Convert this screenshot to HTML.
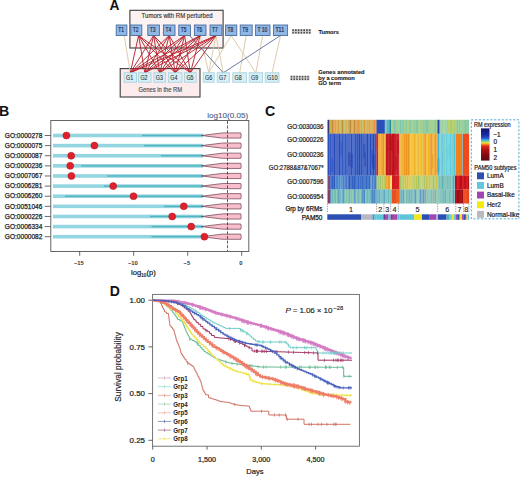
<!DOCTYPE html>
<html><head><meta charset="utf-8"><style>
html,body{margin:0;padding:0;background:#fff;width:520px;height:477px;overflow:hidden}
svg{display:block}
</style></head><body>
<svg width="520" height="477" viewBox="0 0 520 477">
<rect width="520" height="477" fill="#fff"/>
<text x="109.4" y="9.6" font-family='"Liberation Sans", sans-serif' font-size="13.8" font-weight="bold" fill="#111" text-anchor="start">A</text>
<rect x="129.9" y="10.3" width="93.2" height="37.7" fill="#fdf2f2" stroke="#3d3d3d" stroke-width="1.1"/>
<text x="141.6" y="17.6" font-family='"Liberation Sans", sans-serif' font-size="6.4" font-weight="normal" fill="#333" text-anchor="start" textLength="71" lengthAdjust="spacingAndGlyphs" stroke="#333" stroke-width="0.15">Tumors with RM perturbed</text>
<rect x="120.2" y="68.6" width="79.8" height="28.4" fill="#fcebed" stroke="#3d3d3d" stroke-width="1.1"/>
<text x="138.6" y="91.8" font-family='"Liberation Sans", sans-serif' font-size="6.9" font-weight="normal" fill="#4a4a4a" text-anchor="start" textLength="43.5" lengthAdjust="spacingAndGlyphs" stroke="#4a4a4a" stroke-width="0.15">Genes in the RM</text>
<line x1="124.2" y1="35.5" x2="130.3" y2="72.8" stroke="#d8c7a6" stroke-width="0.9"/>
<line x1="200.2" y1="35.5" x2="208.7" y2="72.8" stroke="#d8c7a6" stroke-width="0.9"/>
<line x1="216.0" y1="35.5" x2="208.7" y2="72.8" stroke="#d8c7a6" stroke-width="0.9"/>
<line x1="216.0" y1="35.5" x2="223.3" y2="72.8" stroke="#d8c7a6" stroke-width="0.9"/>
<line x1="231.2" y1="35.5" x2="208.7" y2="72.8" stroke="#d8c7a6" stroke-width="0.9"/>
<line x1="231.2" y1="35.5" x2="255.9" y2="72.8" stroke="#d8c7a6" stroke-width="0.9"/>
<line x1="246.2" y1="35.5" x2="239.7" y2="72.8" stroke="#d8c7a6" stroke-width="0.9"/>
<line x1="262.7" y1="35.5" x2="255.9" y2="72.8" stroke="#d8c7a6" stroke-width="0.9"/>
<line x1="280.5" y1="35.5" x2="272.1" y2="72.8" stroke="#d8c7a6" stroke-width="0.9"/>
<line x1="189.5" y1="35.5" x2="223.3" y2="72.8" stroke="#5a6588" stroke-width="0.9"/>
<line x1="280.5" y1="35.5" x2="223.3" y2="72.8" stroke="#5a6a9c" stroke-width="0.9"/>
<line x1="138.6" y1="35.5" x2="130.3" y2="72.8" stroke="#b5202d" stroke-width="1.0" stroke-opacity="0.92"/>
<line x1="138.6" y1="35.5" x2="144.8" y2="72.8" stroke="#b5202d" stroke-width="1.0" stroke-opacity="0.92"/>
<line x1="138.6" y1="35.5" x2="159.8" y2="72.8" stroke="#b5202d" stroke-width="1.0" stroke-opacity="0.92"/>
<line x1="138.6" y1="35.5" x2="175.2" y2="72.8" stroke="#b5202d" stroke-width="1.0" stroke-opacity="0.92"/>
<line x1="138.6" y1="35.5" x2="190.4" y2="72.8" stroke="#b5202d" stroke-width="1.0" stroke-opacity="0.92"/>
<line x1="153.6" y1="35.5" x2="130.3" y2="72.8" stroke="#b5202d" stroke-width="1.0" stroke-opacity="0.92"/>
<line x1="153.6" y1="35.5" x2="144.8" y2="72.8" stroke="#b5202d" stroke-width="1.0" stroke-opacity="0.92"/>
<line x1="153.6" y1="35.5" x2="159.8" y2="72.8" stroke="#b5202d" stroke-width="1.0" stroke-opacity="0.92"/>
<line x1="153.6" y1="35.5" x2="175.2" y2="72.8" stroke="#b5202d" stroke-width="1.0" stroke-opacity="0.92"/>
<line x1="153.6" y1="35.5" x2="190.4" y2="72.8" stroke="#b5202d" stroke-width="1.0" stroke-opacity="0.92"/>
<line x1="169.2" y1="35.5" x2="130.3" y2="72.8" stroke="#b5202d" stroke-width="1.0" stroke-opacity="0.92"/>
<line x1="169.2" y1="35.5" x2="144.8" y2="72.8" stroke="#b5202d" stroke-width="1.0" stroke-opacity="0.92"/>
<line x1="169.2" y1="35.5" x2="159.8" y2="72.8" stroke="#b5202d" stroke-width="1.0" stroke-opacity="0.92"/>
<line x1="169.2" y1="35.5" x2="175.2" y2="72.8" stroke="#b5202d" stroke-width="1.0" stroke-opacity="0.92"/>
<line x1="169.2" y1="35.5" x2="190.4" y2="72.8" stroke="#b5202d" stroke-width="1.0" stroke-opacity="0.92"/>
<line x1="184.6" y1="35.5" x2="130.3" y2="72.8" stroke="#b5202d" stroke-width="1.0" stroke-opacity="0.92"/>
<line x1="184.6" y1="35.5" x2="144.8" y2="72.8" stroke="#b5202d" stroke-width="1.0" stroke-opacity="0.92"/>
<line x1="184.6" y1="35.5" x2="159.8" y2="72.8" stroke="#b5202d" stroke-width="1.0" stroke-opacity="0.92"/>
<line x1="184.6" y1="35.5" x2="175.2" y2="72.8" stroke="#b5202d" stroke-width="1.0" stroke-opacity="0.92"/>
<line x1="184.6" y1="35.5" x2="190.4" y2="72.8" stroke="#b5202d" stroke-width="1.0" stroke-opacity="0.92"/>
<line x1="200.2" y1="35.5" x2="130.3" y2="72.8" stroke="#b5202d" stroke-width="1.0" stroke-opacity="0.92"/>
<line x1="200.2" y1="35.5" x2="144.8" y2="72.8" stroke="#b5202d" stroke-width="1.0" stroke-opacity="0.92"/>
<line x1="200.2" y1="35.5" x2="159.8" y2="72.8" stroke="#b5202d" stroke-width="1.0" stroke-opacity="0.92"/>
<line x1="200.2" y1="35.5" x2="175.2" y2="72.8" stroke="#b5202d" stroke-width="1.0" stroke-opacity="0.92"/>
<line x1="200.2" y1="35.5" x2="190.4" y2="72.8" stroke="#b5202d" stroke-width="1.0" stroke-opacity="0.92"/>
<line x1="216.0" y1="35.5" x2="130.3" y2="72.8" stroke="#b5202d" stroke-width="1.0" stroke-opacity="0.92"/>
<line x1="216.0" y1="35.5" x2="144.8" y2="72.8" stroke="#b5202d" stroke-width="1.0" stroke-opacity="0.92"/>
<line x1="216.0" y1="35.5" x2="159.8" y2="72.8" stroke="#b5202d" stroke-width="1.0" stroke-opacity="0.92"/>
<line x1="216.0" y1="35.5" x2="175.2" y2="72.8" stroke="#b5202d" stroke-width="1.0" stroke-opacity="0.92"/>
<line x1="216.0" y1="35.5" x2="190.4" y2="72.8" stroke="#b5202d" stroke-width="1.0" stroke-opacity="0.92"/>
<rect x="116.2" y="25.0" width="10.7" height="10.5" fill="#8fb8e6" stroke="#4a6c9e" stroke-width="0.9"/>
<text x="118.2" y="31.5" font-family='"Liberation Sans", sans-serif' font-size="6.6" font-weight="normal" fill="#1c2c4c" text-anchor="start" textLength="5.8" lengthAdjust="spacingAndGlyphs" stroke="#1c2c4c" stroke-width="0.18">T1</text>
<rect x="130.8" y="25.0" width="11.0" height="10.5" fill="#8fb8e6" stroke="#4a6c9e" stroke-width="0.9"/>
<text x="132.8" y="31.5" font-family='"Liberation Sans", sans-serif' font-size="6.6" font-weight="normal" fill="#1c2c4c" text-anchor="start" textLength="5.8" lengthAdjust="spacingAndGlyphs" stroke="#1c2c4c" stroke-width="0.18">T2</text>
<rect x="147.8" y="25.0" width="11.6" height="10.5" fill="#8fb8e6" stroke="#4a6c9e" stroke-width="0.9"/>
<text x="149.8" y="31.5" font-family='"Liberation Sans", sans-serif' font-size="6.6" font-weight="normal" fill="#1c2c4c" text-anchor="start" textLength="5.8" lengthAdjust="spacingAndGlyphs" stroke="#1c2c4c" stroke-width="0.18">T3</text>
<rect x="163.4" y="25.0" width="11.6" height="10.5" fill="#8fb8e6" stroke="#4a6c9e" stroke-width="0.9"/>
<text x="165.4" y="31.5" font-family='"Liberation Sans", sans-serif' font-size="6.6" font-weight="normal" fill="#1c2c4c" text-anchor="start" textLength="5.8" lengthAdjust="spacingAndGlyphs" stroke="#1c2c4c" stroke-width="0.18">T4</text>
<rect x="178.8" y="25.0" width="11.6" height="10.5" fill="#8fb8e6" stroke="#4a6c9e" stroke-width="0.9"/>
<text x="180.8" y="31.5" font-family='"Liberation Sans", sans-serif' font-size="6.6" font-weight="normal" fill="#1c2c4c" text-anchor="start" textLength="5.8" lengthAdjust="spacingAndGlyphs" stroke="#1c2c4c" stroke-width="0.18">T5</text>
<rect x="194.4" y="25.0" width="11.6" height="10.5" fill="#8fb8e6" stroke="#4a6c9e" stroke-width="0.9"/>
<text x="196.4" y="31.5" font-family='"Liberation Sans", sans-serif' font-size="6.6" font-weight="normal" fill="#1c2c4c" text-anchor="start" textLength="5.8" lengthAdjust="spacingAndGlyphs" stroke="#1c2c4c" stroke-width="0.18">T6</text>
<rect x="210" y="25.0" width="12.0" height="10.5" fill="#8fb8e6" stroke="#4a6c9e" stroke-width="0.9"/>
<text x="212.0" y="31.5" font-family='"Liberation Sans", sans-serif' font-size="6.6" font-weight="normal" fill="#1c2c4c" text-anchor="start" textLength="5.8" lengthAdjust="spacingAndGlyphs" stroke="#1c2c4c" stroke-width="0.18">T7</text>
<rect x="225.5" y="25.0" width="11.3" height="10.5" fill="#8fb8e6" stroke="#4a6c9e" stroke-width="0.9"/>
<text x="227.5" y="31.5" font-family='"Liberation Sans", sans-serif' font-size="6.6" font-weight="normal" fill="#1c2c4c" text-anchor="start" textLength="5.8" lengthAdjust="spacingAndGlyphs" stroke="#1c2c4c" stroke-width="0.18">T8</text>
<rect x="240.2" y="25.0" width="12.0" height="10.5" fill="#8fb8e6" stroke="#4a6c9e" stroke-width="0.9"/>
<text x="242.2" y="31.5" font-family='"Liberation Sans", sans-serif' font-size="6.6" font-weight="normal" fill="#1c2c4c" text-anchor="start" textLength="5.8" lengthAdjust="spacingAndGlyphs" stroke="#1c2c4c" stroke-width="0.18">T9</text>
<rect x="255.4" y="25.0" width="14.6" height="10.5" fill="#8fb8e6" stroke="#4a6c9e" stroke-width="0.9"/>
<text x="257.4" y="31.5" font-family='"Liberation Sans", sans-serif' font-size="6.6" font-weight="normal" fill="#1c2c4c" text-anchor="start" textLength="10.0" lengthAdjust="spacingAndGlyphs" stroke="#1c2c4c" stroke-width="0.18">T 10</text>
<rect x="273.4" y="25.0" width="14.2" height="10.5" fill="#8fb8e6" stroke="#4a6c9e" stroke-width="0.9"/>
<text x="275.4" y="31.5" font-family='"Liberation Sans", sans-serif' font-size="6.6" font-weight="normal" fill="#1c2c4c" text-anchor="start" textLength="8.7" lengthAdjust="spacingAndGlyphs" stroke="#1c2c4c" stroke-width="0.18">T11</text>
<rect x="124.2" y="72.8" width="12.3" height="9.4" fill="#d8eff5" stroke="#a6d2e0" stroke-width="0.9"/>
<text x="126.0" y="80.0" font-family='"Liberation Sans", sans-serif' font-size="6.8" font-weight="normal" fill="#2c3338" text-anchor="start" textLength="7.2" lengthAdjust="spacingAndGlyphs" stroke="#2c3338" stroke-width="0.1">G1</text>
<rect x="138.6" y="72.8" width="12.4" height="9.4" fill="#d8eff5" stroke="#a6d2e0" stroke-width="0.9"/>
<text x="140.4" y="80.0" font-family='"Liberation Sans", sans-serif' font-size="6.8" font-weight="normal" fill="#2c3338" text-anchor="start" textLength="7.2" lengthAdjust="spacingAndGlyphs" stroke="#2c3338" stroke-width="0.1">G2</text>
<rect x="154" y="72.8" width="11.6" height="9.4" fill="#d8eff5" stroke="#a6d2e0" stroke-width="0.9"/>
<text x="155.8" y="80.0" font-family='"Liberation Sans", sans-serif' font-size="6.8" font-weight="normal" fill="#2c3338" text-anchor="start" textLength="7.2" lengthAdjust="spacingAndGlyphs" stroke="#2c3338" stroke-width="0.1">G3</text>
<rect x="168.4" y="72.8" width="13.6" height="9.4" fill="#d8eff5" stroke="#a6d2e0" stroke-width="0.9"/>
<text x="170.20000000000002" y="80.0" font-family='"Liberation Sans", sans-serif' font-size="6.8" font-weight="normal" fill="#2c3338" text-anchor="start" textLength="7.2" lengthAdjust="spacingAndGlyphs" stroke="#2c3338" stroke-width="0.1">G4</text>
<rect x="184.6" y="72.8" width="11.6" height="9.4" fill="#d8eff5" stroke="#a6d2e0" stroke-width="0.9"/>
<text x="186.4" y="80.0" font-family='"Liberation Sans", sans-serif' font-size="6.8" font-weight="normal" fill="#2c3338" text-anchor="start" textLength="7.2" lengthAdjust="spacingAndGlyphs" stroke="#2c3338" stroke-width="0.1">G5</text>
<rect x="203.2" y="72.8" width="11.0" height="9.4" fill="#d8eff5" stroke="#a6d2e0" stroke-width="0.9"/>
<text x="205.0" y="80.0" font-family='"Liberation Sans", sans-serif' font-size="6.8" font-weight="normal" fill="#2c3338" text-anchor="start" textLength="7.2" lengthAdjust="spacingAndGlyphs" stroke="#2c3338" stroke-width="0.1">G6</text>
<rect x="217.2" y="72.8" width="12.2" height="9.4" fill="#d8eff5" stroke="#a6d2e0" stroke-width="0.9"/>
<text x="219.0" y="80.0" font-family='"Liberation Sans", sans-serif' font-size="6.8" font-weight="normal" fill="#2c3338" text-anchor="start" textLength="7.2" lengthAdjust="spacingAndGlyphs" stroke="#2c3338" stroke-width="0.1">G7</text>
<rect x="232.8" y="72.8" width="13.8" height="9.4" fill="#d8eff5" stroke="#a6d2e0" stroke-width="0.9"/>
<text x="234.60000000000002" y="80.0" font-family='"Liberation Sans", sans-serif' font-size="6.8" font-weight="normal" fill="#2c3338" text-anchor="start" textLength="7.2" lengthAdjust="spacingAndGlyphs" stroke="#2c3338" stroke-width="0.1">G8</text>
<rect x="249.2" y="72.8" width="13.4" height="9.4" fill="#d8eff5" stroke="#a6d2e0" stroke-width="0.9"/>
<text x="251.0" y="80.0" font-family='"Liberation Sans", sans-serif' font-size="6.8" font-weight="normal" fill="#2c3338" text-anchor="start" textLength="7.2" lengthAdjust="spacingAndGlyphs" stroke="#2c3338" stroke-width="0.1">G9</text>
<rect x="265.2" y="72.8" width="13.8" height="9.4" fill="#d8eff5" stroke="#a6d2e0" stroke-width="0.9"/>
<text x="267.0" y="80.0" font-family='"Liberation Sans", sans-serif' font-size="6.8" font-weight="normal" fill="#2c3338" text-anchor="start" textLength="10.6" lengthAdjust="spacingAndGlyphs" stroke="#2c3338" stroke-width="0.1">G10</text>
<rect x="291.8" y="29.2" width="19.4" height="4.5" fill="#d6d6d6"/>
<rect x="292.3" y="29.2" width="1.52" height="1.8" fill="#4a4a4a"/>
<rect x="295.1" y="29.2" width="1.52" height="1.8" fill="#4a4a4a"/>
<rect x="297.8" y="29.2" width="1.52" height="1.8" fill="#4a4a4a"/>
<rect x="300.6" y="29.2" width="1.52" height="1.8" fill="#4a4a4a"/>
<rect x="303.4" y="29.2" width="1.52" height="1.8" fill="#4a4a4a"/>
<rect x="306.2" y="29.2" width="1.52" height="1.8" fill="#4a4a4a"/>
<rect x="308.9" y="29.2" width="1.52" height="1.8" fill="#4a4a4a"/>
<rect x="292.3" y="31.8" width="1.52" height="1.8" fill="#4a4a4a"/>
<rect x="295.1" y="31.8" width="1.52" height="1.8" fill="#4a4a4a"/>
<rect x="297.8" y="31.8" width="1.52" height="1.8" fill="#4a4a4a"/>
<rect x="300.6" y="31.8" width="1.52" height="1.8" fill="#4a4a4a"/>
<rect x="303.4" y="31.8" width="1.52" height="1.8" fill="#4a4a4a"/>
<rect x="306.2" y="31.8" width="1.52" height="1.8" fill="#4a4a4a"/>
<rect x="308.9" y="31.8" width="1.52" height="1.8" fill="#4a4a4a"/>
<rect x="290.2" y="75.8" width="19.4" height="4.5" fill="#d6d6d6"/>
<rect x="290.7" y="75.8" width="1.52" height="1.7" fill="#4a4a4a"/>
<rect x="293.5" y="75.8" width="1.52" height="1.7" fill="#4a4a4a"/>
<rect x="296.2" y="75.8" width="1.52" height="1.7" fill="#4a4a4a"/>
<rect x="299.0" y="75.8" width="1.52" height="1.7" fill="#4a4a4a"/>
<rect x="301.8" y="75.8" width="1.52" height="1.7" fill="#4a4a4a"/>
<rect x="304.6" y="75.8" width="1.52" height="1.7" fill="#4a4a4a"/>
<rect x="307.3" y="75.8" width="1.52" height="1.7" fill="#4a4a4a"/>
<rect x="290.7" y="78.4" width="1.52" height="1.7" fill="#4a4a4a"/>
<rect x="293.5" y="78.4" width="1.52" height="1.7" fill="#4a4a4a"/>
<rect x="296.2" y="78.4" width="1.52" height="1.7" fill="#4a4a4a"/>
<rect x="299.0" y="78.4" width="1.52" height="1.7" fill="#4a4a4a"/>
<rect x="301.8" y="78.4" width="1.52" height="1.7" fill="#4a4a4a"/>
<rect x="304.6" y="78.4" width="1.52" height="1.7" fill="#4a4a4a"/>
<rect x="307.3" y="78.4" width="1.52" height="1.7" fill="#4a4a4a"/>
<text x="318.4" y="33.6" font-family='"Liberation Sans", sans-serif' font-size="5.8" font-weight="bold" fill="#1a1a1a" text-anchor="start" textLength="20.4" lengthAdjust="spacingAndGlyphs" stroke="#1a1a1a" stroke-width="0.12">Tumors</text>
<text x="318.2" y="73.9" font-family='"Liberation Sans", sans-serif' font-size="5.8" font-weight="bold" fill="#1a1a1a" text-anchor="start" textLength="46.4" lengthAdjust="spacingAndGlyphs" stroke="#1a1a1a" stroke-width="0.12">Genes annotated</text>
<text x="318.2" y="79.6" font-family='"Liberation Sans", sans-serif' font-size="5.8" font-weight="bold" fill="#1a1a1a" text-anchor="start" textLength="36.6" lengthAdjust="spacingAndGlyphs" stroke="#1a1a1a" stroke-width="0.12">by a common</text>
<text x="318.2" y="85.1" font-family='"Liberation Sans", sans-serif' font-size="5.8" font-weight="bold" fill="#1a1a1a" text-anchor="start" textLength="22.8" lengthAdjust="spacingAndGlyphs" stroke="#1a1a1a" stroke-width="0.12">GO term</text>
<text x="-0.9" y="115.6" font-family='"Liberation Sans", sans-serif' font-size="14.2" font-weight="bold" fill="#111" text-anchor="start">B</text>
<text x="42.4" y="137.7" font-family='"Liberation Sans", sans-serif' font-size="7.0" font-weight="normal" fill="#1a1a1a" text-anchor="end" textLength="37.6" lengthAdjust="spacingAndGlyphs" stroke="#1a1a1a" stroke-width="0.25">GO:0000278</text>
<line x1="44.8" y1="135.50" x2="50.8" y2="135.50" stroke="#444" stroke-width="0.8"/>
<rect x="53" y="133.70" width="150" height="3.6" fill="#93d5e0"/>
<rect x="142" y="134.80" width="61.0" height="1.4" fill="#52b6c2"/>
<path d="M201.5 135.50 L222.5 132.90 L240.8 132.90 Q241.6 135.50 240.8 138.10 L222.5 138.10 Z" fill="#f7bfcb" stroke="#6a3a4c" stroke-width="0.7"/>
<text x="42.4" y="147.82" font-family='"Liberation Sans", sans-serif' font-size="7.0" font-weight="normal" fill="#1a1a1a" text-anchor="end" textLength="37.6" lengthAdjust="spacingAndGlyphs" stroke="#1a1a1a" stroke-width="0.25">GO:0000075</text>
<line x1="44.8" y1="145.62" x2="50.8" y2="145.62" stroke="#444" stroke-width="0.8"/>
<rect x="53" y="143.82" width="150" height="3.6" fill="#93d5e0"/>
<rect x="144" y="144.92" width="59.0" height="1.4" fill="#52b6c2"/>
<path d="M201.5 145.62 L222.5 143.02 L240.8 143.02 Q241.6 145.62 240.8 148.22 L222.5 148.22 Z" fill="#f7bfcb" stroke="#6a3a4c" stroke-width="0.7"/>
<text x="42.4" y="157.94" font-family='"Liberation Sans", sans-serif' font-size="7.0" font-weight="normal" fill="#1a1a1a" text-anchor="end" textLength="37.6" lengthAdjust="spacingAndGlyphs" stroke="#1a1a1a" stroke-width="0.25">GO:0000087</text>
<line x1="44.8" y1="155.74" x2="50.8" y2="155.74" stroke="#444" stroke-width="0.8"/>
<rect x="53" y="153.94" width="150" height="3.6" fill="#93d5e0"/>
<rect x="161" y="155.04" width="42.0" height="1.4" fill="#52b6c2"/>
<path d="M201.5 155.74 L222.5 153.14 L240.8 153.14 Q241.6 155.74 240.8 158.34 L222.5 158.34 Z" fill="#f7bfcb" stroke="#6a3a4c" stroke-width="0.7"/>
<text x="42.4" y="168.06" font-family='"Liberation Sans", sans-serif' font-size="7.0" font-weight="normal" fill="#1a1a1a" text-anchor="end" textLength="37.6" lengthAdjust="spacingAndGlyphs" stroke="#1a1a1a" stroke-width="0.25">GO:0000236</text>
<line x1="44.8" y1="165.86" x2="50.8" y2="165.86" stroke="#444" stroke-width="0.8"/>
<rect x="53" y="164.06" width="150" height="3.6" fill="#93d5e0"/>
<rect x="81" y="165.16" width="122.0" height="1.4" fill="#52b6c2"/>
<path d="M201.5 165.86 L222.5 163.26 L240.8 163.26 Q241.6 165.86 240.8 168.46 L222.5 168.46 Z" fill="#f7bfcb" stroke="#6a3a4c" stroke-width="0.7"/>
<text x="42.4" y="178.17999999999998" font-family='"Liberation Sans", sans-serif' font-size="7.0" font-weight="normal" fill="#1a1a1a" text-anchor="end" textLength="37.6" lengthAdjust="spacingAndGlyphs" stroke="#1a1a1a" stroke-width="0.25">GO:0007067</text>
<line x1="44.8" y1="175.98" x2="50.8" y2="175.98" stroke="#444" stroke-width="0.8"/>
<rect x="53" y="174.18" width="150" height="3.6" fill="#93d5e0"/>
<rect x="107" y="175.28" width="96.0" height="1.4" fill="#52b6c2"/>
<path d="M201.5 175.98 L222.5 173.38 L240.8 173.38 Q241.6 175.98 240.8 178.58 L222.5 178.58 Z" fill="#f7bfcb" stroke="#6a3a4c" stroke-width="0.7"/>
<text x="42.4" y="188.29999999999998" font-family='"Liberation Sans", sans-serif' font-size="7.0" font-weight="normal" fill="#1a1a1a" text-anchor="end" textLength="37.6" lengthAdjust="spacingAndGlyphs" stroke="#1a1a1a" stroke-width="0.25">GO:0006281</text>
<line x1="44.8" y1="186.10" x2="50.8" y2="186.10" stroke="#444" stroke-width="0.8"/>
<rect x="53" y="184.30" width="150" height="3.6" fill="#93d5e0"/>
<rect x="104" y="185.40" width="99.0" height="1.4" fill="#52b6c2"/>
<path d="M201.5 186.10 L222.5 183.50 L240.8 183.50 Q241.6 186.10 240.8 188.70 L222.5 188.70 Z" fill="#f7bfcb" stroke="#6a3a4c" stroke-width="0.7"/>
<text x="42.4" y="198.42" font-family='"Liberation Sans", sans-serif' font-size="7.0" font-weight="normal" fill="#1a1a1a" text-anchor="end" textLength="37.6" lengthAdjust="spacingAndGlyphs" stroke="#1a1a1a" stroke-width="0.25">GO:0006260</text>
<line x1="44.8" y1="196.22" x2="50.8" y2="196.22" stroke="#444" stroke-width="0.8"/>
<rect x="53" y="194.42" width="150" height="3.6" fill="#93d5e0"/>
<rect x="65" y="195.52" width="138.0" height="1.4" fill="#52b6c2"/>
<path d="M201.5 196.22 L222.5 193.62 L240.8 193.62 Q241.6 196.22 240.8 198.82 L222.5 198.82 Z" fill="#f7bfcb" stroke="#6a3a4c" stroke-width="0.7"/>
<text x="42.4" y="208.53999999999996" font-family='"Liberation Sans", sans-serif' font-size="7.0" font-weight="normal" fill="#1a1a1a" text-anchor="end" textLength="37.6" lengthAdjust="spacingAndGlyphs" stroke="#1a1a1a" stroke-width="0.25">GO:0051046</text>
<line x1="44.8" y1="206.34" x2="50.8" y2="206.34" stroke="#444" stroke-width="0.8"/>
<rect x="53" y="204.54" width="150" height="3.6" fill="#93d5e0"/>
<rect x="164" y="205.64" width="39.0" height="1.4" fill="#52b6c2"/>
<path d="M201.5 206.34 L222.5 203.74 L240.8 203.74 Q241.6 206.34 240.8 208.94 L222.5 208.94 Z" fill="#f7bfcb" stroke="#6a3a4c" stroke-width="0.7"/>
<text x="42.4" y="218.65999999999997" font-family='"Liberation Sans", sans-serif' font-size="7.0" font-weight="normal" fill="#1a1a1a" text-anchor="end" textLength="37.6" lengthAdjust="spacingAndGlyphs" stroke="#1a1a1a" stroke-width="0.25">GO:0000226</text>
<line x1="44.8" y1="216.46" x2="50.8" y2="216.46" stroke="#444" stroke-width="0.8"/>
<rect x="53" y="214.66" width="150" height="3.6" fill="#93d5e0"/>
<rect x="150" y="215.76" width="53.0" height="1.4" fill="#52b6c2"/>
<path d="M201.5 216.46 L222.5 213.86 L240.8 213.86 Q241.6 216.46 240.8 219.06 L222.5 219.06 Z" fill="#f7bfcb" stroke="#6a3a4c" stroke-width="0.7"/>
<text x="42.4" y="228.77999999999997" font-family='"Liberation Sans", sans-serif' font-size="7.0" font-weight="normal" fill="#1a1a1a" text-anchor="end" textLength="37.6" lengthAdjust="spacingAndGlyphs" stroke="#1a1a1a" stroke-width="0.25">GO:0006334</text>
<line x1="44.8" y1="226.58" x2="50.8" y2="226.58" stroke="#444" stroke-width="0.8"/>
<rect x="53" y="224.78" width="150" height="3.6" fill="#93d5e0"/>
<rect x="151.5" y="225.88" width="51.5" height="1.4" fill="#52b6c2"/>
<path d="M201.5 226.58 L222.5 223.98 L240.8 223.98 Q241.6 226.58 240.8 229.18 L222.5 229.18 Z" fill="#f7bfcb" stroke="#6a3a4c" stroke-width="0.7"/>
<text x="42.4" y="238.89999999999998" font-family='"Liberation Sans", sans-serif' font-size="7.0" font-weight="normal" fill="#1a1a1a" text-anchor="end" textLength="37.6" lengthAdjust="spacingAndGlyphs" stroke="#1a1a1a" stroke-width="0.25">GO:0000082</text>
<line x1="44.8" y1="236.70" x2="50.8" y2="236.70" stroke="#444" stroke-width="0.8"/>
<rect x="53" y="234.90" width="150" height="3.6" fill="#93d5e0"/>
<rect x="151.5" y="236.00" width="51.5" height="1.4" fill="#52b6c2"/>
<path d="M201.5 236.70 L222.5 234.10 L240.8 234.10 Q241.6 236.70 240.8 239.30 L222.5 239.30 Z" fill="#f7bfcb" stroke="#6a3a4c" stroke-width="0.7"/>
<line x1="227.5" y1="121" x2="227.5" y2="251.5" stroke="#2e3e6c" stroke-width="0.85" stroke-dasharray="3 1.6"/>
<circle cx="66.4" cy="135.50" r="3.5" fill="#e2202b" stroke="#a8141c" stroke-width="0.5"/>
<circle cx="94.4" cy="145.62" r="3.5" fill="#e2202b" stroke="#a8141c" stroke-width="0.5"/>
<circle cx="71.2" cy="155.74" r="3.5" fill="#e2202b" stroke="#a8141c" stroke-width="0.5"/>
<circle cx="70.2" cy="165.86" r="3.5" fill="#e2202b" stroke="#a8141c" stroke-width="0.5"/>
<circle cx="71.4" cy="175.98" r="3.5" fill="#e2202b" stroke="#a8141c" stroke-width="0.5"/>
<circle cx="113.2" cy="186.10" r="3.5" fill="#e2202b" stroke="#a8141c" stroke-width="0.5"/>
<circle cx="133.5" cy="196.22" r="3.5" fill="#e2202b" stroke="#a8141c" stroke-width="0.5"/>
<circle cx="183.8" cy="206.34" r="3.5" fill="#e2202b" stroke="#a8141c" stroke-width="0.5"/>
<circle cx="172.2" cy="216.46" r="3.5" fill="#e2202b" stroke="#a8141c" stroke-width="0.5"/>
<circle cx="191.2" cy="226.58" r="3.5" fill="#e2202b" stroke="#a8141c" stroke-width="0.5"/>
<circle cx="204.4" cy="236.70" r="3.5" fill="#e2202b" stroke="#a8141c" stroke-width="0.5"/>
<rect x="50.8" y="120.5" width="198" height="131" fill="none" stroke="#555" stroke-width="0.9"/>
<text x="207.2" y="117.7" font-family='"Liberation Sans", sans-serif' font-size="7.7" font-weight="normal" fill="#4a5a82" text-anchor="start" textLength="41" lengthAdjust="spacingAndGlyphs" stroke="#4a5a82" stroke-width="0.1">log10(0.05)</text>
<line x1="79.7" y1="251" x2="79.7" y2="255.8" stroke="#444" stroke-width="0.8"/>
<text x="78.89999999999999" y="265.3" font-family='"Liberation Sans", sans-serif' font-size="5.8" font-weight="bold" fill="#333" text-anchor="middle">−15</text>
<line x1="133.7" y1="251" x2="133.7" y2="255.8" stroke="#444" stroke-width="0.8"/>
<text x="132.89999999999998" y="265.3" font-family='"Liberation Sans", sans-serif' font-size="5.8" font-weight="bold" fill="#333" text-anchor="middle">−10</text>
<line x1="187.7" y1="251" x2="187.7" y2="255.8" stroke="#444" stroke-width="0.8"/>
<text x="186.89999999999998" y="265.3" font-family='"Liberation Sans", sans-serif' font-size="5.8" font-weight="bold" fill="#333" text-anchor="middle">−5</text>
<line x1="241.7" y1="251" x2="241.7" y2="255.8" stroke="#444" stroke-width="0.8"/>
<text x="240.89999999999998" y="265.3" font-family='"Liberation Sans", sans-serif' font-size="5.8" font-weight="bold" fill="#333" text-anchor="middle">0</text>
<text x="131" y="275" font-family='"Liberation Sans", sans-serif' font-size="7.7" fill="#1a1a1a" stroke="#1a1a1a" stroke-width="0.2">log<tspan font-size="4.6" dy="1.6">10</tspan><tspan dy="-1.6">(p)</tspan></text>
<text x="265.0" y="115.9" font-family='"Liberation Sans", sans-serif' font-size="14.2" font-weight="bold" fill="#111" text-anchor="start">C</text>
<text x="323.5" y="128.5" font-family='"Liberation Sans", sans-serif' font-size="7.3" font-weight="normal" fill="#1a1a1a" text-anchor="end" textLength="36.2" lengthAdjust="spacingAndGlyphs" stroke="#1a1a1a" stroke-width="0.22">GO:0030036</text>
<text x="323.5" y="141.8" font-family='"Liberation Sans", sans-serif' font-size="7.3" font-weight="normal" fill="#1a1a1a" text-anchor="end" textLength="36.2" lengthAdjust="spacingAndGlyphs" stroke="#1a1a1a" stroke-width="0.22">GO:0000226</text>
<text x="323.5" y="156.7" font-family='"Liberation Sans", sans-serif' font-size="7.3" font-weight="normal" fill="#1a1a1a" text-anchor="end" textLength="36.2" lengthAdjust="spacingAndGlyphs" stroke="#1a1a1a" stroke-width="0.22">GO:0000236</text>
<text x="323.5" y="170.4" font-family='"Liberation Sans", sans-serif' font-size="7.3" font-weight="normal" fill="#1a1a1a" text-anchor="end" textLength="54.7" lengthAdjust="spacingAndGlyphs" stroke="#1a1a1a" stroke-width="0.22">GO:2788&amp;87&amp;7067*</text>
<text x="323.5" y="184.2" font-family='"Liberation Sans", sans-serif' font-size="7.3" font-weight="normal" fill="#1a1a1a" text-anchor="end" textLength="36.2" lengthAdjust="spacingAndGlyphs" stroke="#1a1a1a" stroke-width="0.22">GO:0007596</text>
<text x="323.5" y="198.6" font-family='"Liberation Sans", sans-serif' font-size="7.3" font-weight="normal" fill="#1a1a1a" text-anchor="end" textLength="36.2" lengthAdjust="spacingAndGlyphs" stroke="#1a1a1a" stroke-width="0.22">GO:0006954</text>
<text x="322.4" y="211.2" font-family='"Liberation Sans", sans-serif' font-size="6.8" font-weight="normal" fill="#1a1a1a" text-anchor="end" textLength="37" lengthAdjust="spacingAndGlyphs" stroke="#1a1a1a" stroke-width="0.25">Grp by 6RMs</text>
<text x="322.4" y="220.2" font-family='"Liberation Sans", sans-serif' font-size="6.8" font-weight="normal" fill="#1a1a1a" text-anchor="end" textLength="20.6" lengthAdjust="spacingAndGlyphs" stroke="#1a1a1a" stroke-width="0.25">PAM50</text>
<rect x="327.5" y="119.80" width="2.15" height="14.03" fill="#30357e"/>
<rect x="329.5" y="119.80" width="2.15" height="14.03" fill="#ccb048"/>
<rect x="331.5" y="119.80" width="2.15" height="14.03" fill="#c08c38"/>
<rect x="333.5" y="119.80" width="1.15" height="14.03" fill="#e0903a"/>
<rect x="334.5" y="119.80" width="2.15" height="14.03" fill="#e8a040"/>
<rect x="336.5" y="119.80" width="1.15" height="14.03" fill="#d4aa40"/>
<rect x="337.5" y="119.80" width="2.15" height="14.03" fill="#d8a040"/>
<rect x="339.5" y="119.80" width="1.15" height="14.03" fill="#d4aa40"/>
<rect x="340.5" y="119.80" width="1.15" height="14.03" fill="#a8c068"/>
<rect x="341.5" y="119.80" width="2.15" height="14.03" fill="#c08c38"/>
<rect x="343.5" y="119.80" width="1.15" height="14.03" fill="#a8c068"/>
<rect x="344.5" y="119.80" width="1.15" height="14.03" fill="#ccb048"/>
<rect x="345.5" y="119.80" width="1.15" height="14.03" fill="#dc9a38"/>
<rect x="346.5" y="119.80" width="1.15" height="14.03" fill="#c8a83c"/>
<rect x="347.5" y="119.80" width="1.15" height="14.03" fill="#a8c068"/>
<rect x="348.5" y="119.80" width="1.15" height="14.03" fill="#c08c38"/>
<rect x="349.5" y="119.80" width="2.15" height="14.03" fill="#c08c38"/>
<rect x="351.5" y="119.80" width="1.15" height="14.03" fill="#ccb048"/>
<rect x="352.5" y="119.80" width="1.15" height="14.03" fill="#e8a040"/>
<rect x="353.5" y="119.80" width="2.15" height="14.03" fill="#c08c38"/>
<rect x="355.5" y="119.80" width="1.15" height="14.03" fill="#e8a040"/>
<rect x="356.5" y="119.80" width="1.15" height="14.03" fill="#c08c38"/>
<rect x="357.5" y="119.80" width="2.15" height="14.03" fill="#e49438"/>
<rect x="359.5" y="119.80" width="1.15" height="14.03" fill="#d09838"/>
<rect x="360.5" y="119.80" width="2.15" height="14.03" fill="#b0bc58"/>
<rect x="362.5" y="119.80" width="1.15" height="14.03" fill="#ccb048"/>
<rect x="363.5" y="119.80" width="2.15" height="14.03" fill="#dc9a38"/>
<rect x="365.5" y="119.80" width="1.15" height="14.03" fill="#a8c068"/>
<rect x="366.5" y="119.80" width="1.15" height="14.03" fill="#e49438"/>
<rect x="367.5" y="119.80" width="1.15" height="14.03" fill="#d8a040"/>
<rect x="368.5" y="119.80" width="2.15" height="14.03" fill="#d4aa40"/>
<rect x="370.5" y="119.80" width="1.15" height="14.03" fill="#e8a040"/>
<rect x="371.5" y="119.80" width="1.15" height="14.03" fill="#c8a83c"/>
<rect x="372.5" y="119.80" width="1.15" height="14.03" fill="#dc9a38"/>
<rect x="373.5" y="119.80" width="2.15" height="14.03" fill="#e49438"/>
<rect x="375.5" y="119.80" width="1.15" height="14.03" fill="#e49438"/>
<rect x="376.5" y="119.80" width="8.45" height="14.03" fill="#2a4fbd"/>
<rect x="384.8" y="119.80" width="1.15" height="14.03" fill="#80c8b8"/>
<rect x="385.8" y="119.80" width="1.15" height="14.03" fill="#80c8b8"/>
<rect x="386.8" y="119.80" width="2.15" height="14.03" fill="#58b4c0"/>
<rect x="388.8" y="119.80" width="1.15" height="14.03" fill="#58b4c0"/>
<rect x="389.8" y="119.80" width="1.35" height="14.03" fill="#6cc0c8"/>
<rect x="389.6" y="119.80" width="1.35" height="14.03" fill="#2a8898"/>
<rect x="391.0" y="119.80" width="2.15" height="14.03" fill="#a8d090"/>
<rect x="393.0" y="119.80" width="1.15" height="14.03" fill="#98d0a0"/>
<rect x="394.0" y="119.80" width="1.15" height="14.03" fill="#7cc4b0"/>
<rect x="395.0" y="119.80" width="1.15" height="14.03" fill="#8ccca0"/>
<rect x="396.0" y="119.80" width="1.15" height="14.03" fill="#a0d098"/>
<rect x="397.0" y="119.80" width="2.15" height="14.03" fill="#98d0a0"/>
<rect x="399.0" y="119.80" width="1.15" height="14.03" fill="#a0d098"/>
<rect x="400.0" y="119.80" width="1.15" height="14.03" fill="#7cc4b0"/>
<rect x="401.0" y="119.80" width="1.15" height="14.03" fill="#a0d098"/>
<rect x="402.0" y="119.80" width="2.15" height="14.03" fill="#8ccca0"/>
<rect x="404.0" y="119.80" width="2.15" height="14.03" fill="#a0d098"/>
<rect x="406.0" y="119.80" width="1.15" height="14.03" fill="#8ccca0"/>
<rect x="407.0" y="119.80" width="2.15" height="14.03" fill="#a8d090"/>
<rect x="409.0" y="119.80" width="2.15" height="14.03" fill="#8ccca0"/>
<rect x="411.0" y="119.80" width="1.15" height="14.03" fill="#98d0a0"/>
<rect x="412.0" y="119.80" width="2.15" height="14.03" fill="#a8d090"/>
<rect x="414.0" y="119.80" width="1.15" height="14.03" fill="#8ccca0"/>
<rect x="415.0" y="119.80" width="1.15" height="14.03" fill="#98d0a0"/>
<rect x="416.0" y="119.80" width="2.15" height="14.03" fill="#84c8a8"/>
<rect x="418.0" y="119.80" width="1.15" height="14.03" fill="#a8d090"/>
<rect x="419.0" y="119.80" width="2.15" height="14.03" fill="#a8d090"/>
<rect x="421.0" y="119.80" width="2.15" height="14.03" fill="#a0d098"/>
<rect x="423.0" y="119.80" width="1.15" height="14.03" fill="#8ccca0"/>
<rect x="424.0" y="119.80" width="1.15" height="14.03" fill="#98d0a0"/>
<rect x="425.0" y="119.80" width="1.15" height="14.03" fill="#8ccca0"/>
<rect x="426.0" y="119.80" width="2.15" height="14.03" fill="#84c8a8"/>
<rect x="428.0" y="119.80" width="2.15" height="14.03" fill="#98d0a0"/>
<rect x="430.0" y="119.80" width="2.15" height="14.03" fill="#a8d090"/>
<rect x="432.0" y="119.80" width="1.15" height="14.03" fill="#a8d090"/>
<rect x="433.0" y="119.80" width="2.15" height="14.03" fill="#98d0a0"/>
<rect x="435.0" y="119.80" width="1.15" height="14.03" fill="#84c8a8"/>
<rect x="436.0" y="119.80" width="1.15" height="14.03" fill="#a8d090"/>
<rect x="437.0" y="119.80" width="0.65" height="14.03" fill="#7cc4b0"/>
<rect x="437.5" y="119.80" width="2.25" height="14.03" fill="#2a40a8"/>
<rect x="439.6" y="119.80" width="1.15" height="14.03" fill="#98d0a0"/>
<rect x="440.6" y="119.80" width="1.15" height="14.03" fill="#7cc4b0"/>
<rect x="441.6" y="119.80" width="2.15" height="14.03" fill="#a0d098"/>
<rect x="443.6" y="119.80" width="1.15" height="14.03" fill="#a0d098"/>
<rect x="444.6" y="119.80" width="1.15" height="14.03" fill="#8ccca0"/>
<rect x="445.6" y="119.80" width="1.15" height="14.03" fill="#8ccca0"/>
<rect x="446.6" y="119.80" width="1.55" height="14.03" fill="#98d0a0"/>
<rect x="448.0" y="119.80" width="2.15" height="14.03" fill="#c0d068"/>
<rect x="450.0" y="119.80" width="2.15" height="14.03" fill="#a8cc78"/>
<rect x="452.0" y="119.80" width="2.15" height="14.03" fill="#c0d068"/>
<rect x="454.0" y="119.80" width="1.15" height="14.03" fill="#a8cc78"/>
<rect x="455.0" y="119.80" width="1.15" height="14.03" fill="#b8d070"/>
<rect x="456.0" y="119.80" width="1.15" height="14.03" fill="#a0d098"/>
<rect x="457.0" y="119.80" width="1.15" height="14.03" fill="#84c8a8"/>
<rect x="458.0" y="119.80" width="1.15" height="14.03" fill="#98d0a0"/>
<rect x="459.0" y="119.80" width="1.15" height="14.03" fill="#8ccca0"/>
<rect x="460.0" y="119.80" width="2.15" height="14.03" fill="#a0d098"/>
<rect x="462.0" y="119.80" width="2.15" height="14.03" fill="#98d0a0"/>
<rect x="464.0" y="119.80" width="1.15" height="14.03" fill="#8ccca0"/>
<rect x="465.0" y="119.80" width="1.15" height="14.03" fill="#84c8a8"/>
<rect x="466.0" y="119.80" width="2.15" height="14.03" fill="#90c8a8"/>
<rect x="468.0" y="119.80" width="1.15" height="14.03" fill="#8ccca0"/>
<rect x="327.5" y="133.73" width="2.15" height="41.89" fill="#284cba"/>
<rect x="329.5" y="133.73" width="2.15" height="41.89" fill="#3058c4"/>
<rect x="331.5" y="133.73" width="1.15" height="41.89" fill="#2a50bf"/>
<rect x="331.5" y="158.11" width="1.15" height="13.93" fill="#375ac3"/>
<rect x="332.5" y="133.73" width="1.15" height="41.89" fill="#2646b4"/>
<rect x="333.5" y="133.73" width="2.15" height="41.89" fill="#284ab8"/>
<rect x="335.5" y="133.73" width="1.15" height="41.89" fill="#2a50bf"/>
<rect x="336.5" y="133.73" width="1.15" height="41.89" fill="#2646b4"/>
<rect x="337.5" y="133.73" width="1.15" height="41.89" fill="#284ab8"/>
<rect x="338.5" y="133.73" width="2.15" height="41.89" fill="#284cba"/>
<rect x="340.5" y="133.73" width="1.15" height="41.89" fill="#2c54c2"/>
<rect x="340.5" y="142.37" width="1.15" height="13.93" fill="#395ec6"/>
<rect x="341.5" y="133.73" width="2.15" height="41.89" fill="#3058c4"/>
<rect x="343.5" y="133.73" width="1.15" height="41.89" fill="#284cba"/>
<rect x="344.5" y="133.73" width="2.15" height="41.89" fill="#3058c4"/>
<rect x="346.5" y="133.73" width="1.15" height="41.89" fill="#2646b4"/>
<rect x="347.5" y="133.73" width="1.15" height="41.89" fill="#2b52be"/>
<rect x="348.5" y="133.73" width="1.15" height="41.89" fill="#2646b4"/>
<rect x="348.5" y="152.04" width="1.15" height="13.93" fill="#2442a9"/>
<rect x="349.5" y="133.73" width="1.15" height="41.89" fill="#2b52be"/>
<rect x="350.5" y="133.73" width="2.15" height="41.89" fill="#2a50bf"/>
<rect x="350.5" y="153.49" width="2.15" height="13.93" fill="#274bb4"/>
<rect x="352.5" y="133.73" width="1.15" height="41.89" fill="#2c54c2"/>
<rect x="353.5" y="133.73" width="1.15" height="41.89" fill="#2c54c2"/>
<rect x="354.5" y="133.73" width="2.15" height="41.89" fill="#2b52be"/>
<rect x="356.5" y="133.73" width="2.15" height="41.89" fill="#2b52be"/>
<rect x="358.5" y="133.73" width="2.15" height="41.89" fill="#2646b4"/>
<rect x="360.5" y="133.73" width="2.15" height="41.89" fill="#2c54c2"/>
<rect x="362.5" y="133.73" width="1.15" height="41.89" fill="#284ab8"/>
<rect x="363.5" y="133.73" width="1.15" height="41.89" fill="#2646b4"/>
<rect x="363.5" y="143.81" width="1.15" height="13.93" fill="#2442a9"/>
<rect x="364.5" y="133.73" width="1.15" height="41.89" fill="#2e5ac4"/>
<rect x="364.5" y="152.59" width="1.15" height="13.93" fill="#2b55b8"/>
<rect x="365.5" y="133.73" width="1.15" height="41.89" fill="#2646b4"/>
<rect x="366.5" y="133.73" width="2.15" height="41.89" fill="#284ab8"/>
<rect x="368.5" y="133.73" width="1.15" height="41.89" fill="#3058c4"/>
<rect x="369.5" y="133.73" width="2.15" height="41.89" fill="#284cba"/>
<rect x="371.5" y="133.73" width="1.15" height="41.89" fill="#284cba"/>
<rect x="371.5" y="150.20" width="1.15" height="13.93" fill="#3557be"/>
<rect x="372.5" y="133.73" width="2.15" height="41.89" fill="#2646b4"/>
<rect x="372.5" y="154.87" width="2.15" height="13.93" fill="#2442a9"/>
<rect x="374.5" y="133.73" width="2.15" height="41.89" fill="#2e5ac4"/>
<rect x="376.5" y="133.73" width="1.85" height="41.89" fill="#d0202a"/>
<rect x="376.5" y="135.34" width="1.85" height="13.93" fill="#d32d37"/>
<rect x="378.2" y="133.73" width="2.15" height="41.89" fill="#f2b430"/>
<rect x="380.2" y="133.73" width="2.15" height="41.89" fill="#f2aa28"/>
<rect x="382.2" y="133.73" width="2.15" height="41.89" fill="#ea9620"/>
<rect x="384.2" y="133.73" width="0.75" height="41.89" fill="#f2aa28"/>
<rect x="384.8" y="133.73" width="1.05" height="41.89" fill="#f6d050"/>
<rect x="384.8" y="148.96" width="1.05" height="13.93" fill="#f7d35a"/>
<rect x="385.7" y="133.73" width="3.15" height="41.89" fill="#c4161f"/>
<rect x="388.7" y="133.73" width="3.15" height="41.89" fill="#c4161f"/>
<rect x="388.7" y="136.67" width="3.15" height="13.93" fill="#b8151d"/>
<rect x="391.7" y="133.73" width="2.15" height="41.89" fill="#c4161f"/>
<rect x="391.7" y="151.40" width="2.15" height="13.93" fill="#c8242c"/>
<rect x="393.7" y="133.73" width="3.15" height="41.89" fill="#d01e28"/>
<rect x="393.7" y="156.47" width="3.15" height="13.93" fill="#c41c26"/>
<rect x="396.7" y="133.73" width="2.15" height="41.89" fill="#cc1a26"/>
<rect x="396.7" y="139.87" width="2.15" height="13.93" fill="#c01824"/>
<rect x="398.7" y="133.73" width="0.75" height="41.89" fill="#c4161f"/>
<rect x="392.5" y="133.73" width="1.65" height="41.89" fill="#b81418"/>
<rect x="399.3" y="133.73" width="1.15" height="41.89" fill="#eac834"/>
<rect x="400.3" y="133.73" width="2.15" height="41.89" fill="#f2b426"/>
<rect x="402.3" y="133.73" width="1.15" height="41.89" fill="#f2a422"/>
<rect x="403.3" y="133.73" width="2.15" height="41.89" fill="#f09a20"/>
<rect x="405.3" y="133.73" width="2.15" height="41.89" fill="#ec941e"/>
<rect x="407.3" y="133.73" width="2.15" height="41.89" fill="#ec941e"/>
<rect x="409.3" y="133.73" width="1.15" height="41.89" fill="#f0a020"/>
<rect x="410.3" y="133.73" width="2.15" height="41.89" fill="#f6c82c"/>
<rect x="412.3" y="133.73" width="1.15" height="41.89" fill="#f2b426"/>
<rect x="413.3" y="133.73" width="2.15" height="41.89" fill="#f2b426"/>
<rect x="415.3" y="133.73" width="1.15" height="41.89" fill="#eeac24"/>
<rect x="416.3" y="133.73" width="2.15" height="41.89" fill="#eac834"/>
<rect x="418.3" y="133.73" width="1.15" height="41.89" fill="#f0a020"/>
<rect x="419.3" y="133.73" width="2.15" height="41.89" fill="#f4c22a"/>
<rect x="421.3" y="133.73" width="1.15" height="41.89" fill="#f0a020"/>
<rect x="422.3" y="133.73" width="1.15" height="41.89" fill="#eac834"/>
<rect x="423.3" y="133.73" width="1.15" height="41.89" fill="#f09a20"/>
<rect x="424.3" y="133.73" width="2.15" height="41.89" fill="#f39a1e"/>
<rect x="426.3" y="133.73" width="1.15" height="41.89" fill="#f4c22a"/>
<rect x="427.3" y="133.73" width="2.15" height="41.89" fill="#f2b426"/>
<rect x="429.3" y="133.73" width="1.15" height="41.89" fill="#f0a020"/>
<rect x="430.3" y="133.73" width="2.15" height="41.89" fill="#f09a20"/>
<rect x="432.3" y="133.73" width="1.15" height="41.89" fill="#eeac24"/>
<rect x="432.3" y="154.38" width="1.15" height="13.93" fill="#e0a222"/>
<rect x="433.3" y="133.73" width="1.15" height="41.89" fill="#f2b426"/>
<rect x="434.3" y="133.73" width="2.15" height="41.89" fill="#f09a20"/>
<rect x="436.3" y="133.73" width="1.15" height="41.89" fill="#f2a422"/>
<rect x="437.3" y="133.73" width="0.35" height="41.89" fill="#f39a1e"/>
<rect x="437.5" y="133.73" width="2.15" height="41.89" fill="#44b4dc"/>
<rect x="437.5" y="158.42" width="2.15" height="13.93" fill="#40a9cf"/>
<rect x="439.5" y="133.73" width="1.15" height="41.89" fill="#80d0c4"/>
<rect x="440.5" y="133.73" width="2.15" height="41.89" fill="#66d0e0"/>
<rect x="440.5" y="151.78" width="2.15" height="13.93" fill="#6fd3e2"/>
<rect x="442.5" y="133.73" width="1.15" height="41.89" fill="#44b4dc"/>
<rect x="443.5" y="133.73" width="2.15" height="41.89" fill="#80d0c4"/>
<rect x="445.5" y="133.73" width="2.15" height="41.89" fill="#66d0e0"/>
<rect x="445.5" y="147.13" width="2.15" height="13.93" fill="#6fd3e2"/>
<rect x="447.5" y="133.73" width="1.15" height="41.89" fill="#5ccce0"/>
<rect x="448.5" y="133.73" width="1.15" height="41.89" fill="#66d0e0"/>
<rect x="448.5" y="143.74" width="1.15" height="13.93" fill="#6fd3e2"/>
<rect x="449.5" y="133.73" width="2.15" height="41.89" fill="#5ccce0"/>
<rect x="451.5" y="133.73" width="2.15" height="41.89" fill="#7cccc0"/>
<rect x="453.5" y="133.73" width="2.15" height="41.89" fill="#50c0e4"/>
<rect x="455.5" y="133.73" width="0.65" height="41.89" fill="#74ccd0"/>
<rect x="456.0" y="133.73" width="6.15" height="41.89" fill="#f0801e"/>
<rect x="462.0" y="133.73" width="1.15" height="41.89" fill="#9ab0b0"/>
<rect x="463.0" y="133.73" width="6.15" height="41.89" fill="#ee4a1c"/>
<rect x="327.5" y="175.52" width="1.65" height="14.03" fill="#7a4a78"/>
<rect x="329.0" y="175.52" width="1.35" height="14.03" fill="#a04060"/>
<rect x="330.2" y="175.52" width="1.15" height="14.03" fill="#3566c4"/>
<rect x="331.2" y="175.52" width="2.15" height="14.03" fill="#3060c0"/>
<rect x="333.2" y="175.52" width="2.15" height="14.03" fill="#2f5cbc"/>
<rect x="335.2" y="175.52" width="2.15" height="14.03" fill="#4a88cc"/>
<rect x="337.2" y="175.52" width="1.15" height="14.03" fill="#3a70c8"/>
<rect x="338.2" y="175.52" width="1.15" height="14.03" fill="#4a88cc"/>
<rect x="339.2" y="175.52" width="1.15" height="14.03" fill="#3a70c8"/>
<rect x="340.2" y="175.52" width="2.15" height="14.03" fill="#5a98d0"/>
<rect x="342.2" y="175.52" width="1.15" height="14.03" fill="#4a88cc"/>
<rect x="343.2" y="175.52" width="1.15" height="14.03" fill="#3468c4"/>
<rect x="344.2" y="175.52" width="2.15" height="14.03" fill="#4a88cc"/>
<rect x="346.2" y="175.52" width="1.15" height="14.03" fill="#2f5cbc"/>
<rect x="347.2" y="175.52" width="1.15" height="14.03" fill="#4a88cc"/>
<rect x="348.2" y="175.52" width="2.15" height="14.03" fill="#2f5cbc"/>
<rect x="350.2" y="175.52" width="1.15" height="14.03" fill="#3468c4"/>
<rect x="351.2" y="175.52" width="2.15" height="14.03" fill="#3060c0"/>
<rect x="353.2" y="175.52" width="2.15" height="14.03" fill="#2f5cbc"/>
<rect x="355.2" y="175.52" width="1.15" height="14.03" fill="#3060c0"/>
<rect x="356.2" y="175.52" width="1.15" height="14.03" fill="#3468c4"/>
<rect x="357.2" y="175.52" width="2.15" height="14.03" fill="#3468c4"/>
<rect x="359.2" y="175.52" width="2.15" height="14.03" fill="#3a70c8"/>
<rect x="361.2" y="175.52" width="2.15" height="14.03" fill="#3468c4"/>
<rect x="363.2" y="175.52" width="1.15" height="14.03" fill="#3468c4"/>
<rect x="364.2" y="175.52" width="1.15" height="14.03" fill="#3468c4"/>
<rect x="365.2" y="175.52" width="2.15" height="14.03" fill="#3566c4"/>
<rect x="367.2" y="175.52" width="1.15" height="14.03" fill="#3468c4"/>
<rect x="368.2" y="175.52" width="2.15" height="14.03" fill="#3468c4"/>
<rect x="370.2" y="175.52" width="1.15" height="14.03" fill="#4a88cc"/>
<rect x="371.2" y="175.52" width="1.15" height="14.03" fill="#5a98d0"/>
<rect x="372.2" y="175.52" width="1.15" height="14.03" fill="#3566c4"/>
<rect x="373.2" y="175.52" width="2.15" height="14.03" fill="#4a88cc"/>
<rect x="375.2" y="175.52" width="1.45" height="14.03" fill="#3060c0"/>
<rect x="376.5" y="175.52" width="1.15" height="14.03" fill="#9cc678"/>
<rect x="377.5" y="175.52" width="2.15" height="14.03" fill="#a8c870"/>
<rect x="379.5" y="175.52" width="2.15" height="14.03" fill="#9cc678"/>
<rect x="381.5" y="175.52" width="2.15" height="14.03" fill="#b8c868"/>
<rect x="383.5" y="175.52" width="1.65" height="14.03" fill="#b4cc60"/>
<rect x="385.0" y="175.52" width="1.15" height="14.03" fill="#f4a83a"/>
<rect x="386.0" y="175.52" width="1.15" height="14.03" fill="#f4a83a"/>
<rect x="387.0" y="175.52" width="1.15" height="14.03" fill="#eeb040"/>
<rect x="388.0" y="175.52" width="1.15" height="14.03" fill="#f09830"/>
<rect x="389.0" y="175.52" width="1.15" height="14.03" fill="#f09830"/>
<rect x="390.0" y="175.52" width="2.15" height="14.03" fill="#f8e070"/>
<rect x="392.0" y="175.52" width="1.15" height="14.03" fill="#d82020"/>
<rect x="393.0" y="175.52" width="2.15" height="14.03" fill="#d01c20"/>
<rect x="395.0" y="175.52" width="2.15" height="14.03" fill="#d82020"/>
<rect x="397.0" y="175.52" width="2.15" height="14.03" fill="#d82020"/>
<rect x="399.0" y="175.52" width="0.65" height="14.03" fill="#d82020"/>
<rect x="399.5" y="175.52" width="2.15" height="14.03" fill="#a8c468"/>
<rect x="401.5" y="175.52" width="1.15" height="14.03" fill="#a8c468"/>
<rect x="402.5" y="175.52" width="2.15" height="14.03" fill="#b4cc60"/>
<rect x="404.5" y="175.52" width="2.15" height="14.03" fill="#dcc040"/>
<rect x="406.5" y="175.52" width="2.15" height="14.03" fill="#d4c444"/>
<rect x="408.5" y="175.52" width="1.15" height="14.03" fill="#d4c444"/>
<rect x="409.5" y="175.52" width="1.15" height="14.03" fill="#dcc040"/>
<rect x="410.5" y="175.52" width="1.15" height="14.03" fill="#d4c444"/>
<rect x="411.5" y="175.52" width="1.15" height="14.03" fill="#d4c444"/>
<rect x="412.5" y="175.52" width="1.15" height="14.03" fill="#9cc678"/>
<rect x="413.5" y="175.52" width="2.15" height="14.03" fill="#c0cc58"/>
<rect x="415.5" y="175.52" width="2.15" height="14.03" fill="#c0c84c"/>
<rect x="417.5" y="175.52" width="2.15" height="14.03" fill="#9cc678"/>
<rect x="419.5" y="175.52" width="1.15" height="14.03" fill="#9cc678"/>
<rect x="420.5" y="175.52" width="1.15" height="14.03" fill="#c0cc58"/>
<rect x="421.5" y="175.52" width="1.15" height="14.03" fill="#c0cc58"/>
<rect x="422.5" y="175.52" width="1.15" height="14.03" fill="#b8c868"/>
<rect x="423.5" y="175.52" width="2.15" height="14.03" fill="#a8c870"/>
<rect x="425.5" y="175.52" width="2.15" height="14.03" fill="#c8c050"/>
<rect x="427.5" y="175.52" width="1.15" height="14.03" fill="#9cc678"/>
<rect x="428.5" y="175.52" width="2.15" height="14.03" fill="#dcc040"/>
<rect x="430.5" y="175.52" width="1.15" height="14.03" fill="#a8c870"/>
<rect x="431.5" y="175.52" width="1.15" height="14.03" fill="#c0c84c"/>
<rect x="432.5" y="175.52" width="2.15" height="14.03" fill="#a4c474"/>
<rect x="434.5" y="175.52" width="1.15" height="14.03" fill="#a8c468"/>
<rect x="435.5" y="175.52" width="2.15" height="14.03" fill="#d4c444"/>
<rect x="437.5" y="175.52" width="1.15" height="14.03" fill="#78c0b0"/>
<rect x="438.5" y="175.52" width="2.15" height="14.03" fill="#78c0b0"/>
<rect x="440.5" y="175.52" width="1.15" height="14.03" fill="#6ab8b4"/>
<rect x="441.5" y="175.52" width="2.15" height="14.03" fill="#5eb0b8"/>
<rect x="443.5" y="175.52" width="1.15" height="14.03" fill="#5eb0b8"/>
<rect x="444.5" y="175.52" width="1.15" height="14.03" fill="#84c4a8"/>
<rect x="445.5" y="175.52" width="1.15" height="14.03" fill="#5eb0b8"/>
<rect x="446.5" y="175.52" width="2.15" height="14.03" fill="#78c0b0"/>
<rect x="448.5" y="175.52" width="1.15" height="14.03" fill="#5eb0b8"/>
<rect x="449.5" y="175.52" width="2.15" height="14.03" fill="#78c0b0"/>
<rect x="451.5" y="175.52" width="1.15" height="14.03" fill="#88c8b0"/>
<rect x="452.5" y="175.52" width="2.15" height="14.03" fill="#5c9cc8"/>
<rect x="454.5" y="175.52" width="0.65" height="14.03" fill="#80c8c0"/>
<rect x="455.0" y="175.52" width="2.15" height="14.03" fill="#b81016"/>
<rect x="457.0" y="175.52" width="1.15" height="14.03" fill="#d42024"/>
<rect x="458.0" y="175.52" width="1.15" height="14.03" fill="#d81c22"/>
<rect x="459.0" y="175.52" width="1.15" height="14.03" fill="#c01418"/>
<rect x="460.0" y="175.52" width="2.15" height="14.03" fill="#b81016"/>
<rect x="462.0" y="175.52" width="2.15" height="14.03" fill="#d42024"/>
<rect x="464.0" y="175.52" width="2.15" height="14.03" fill="#c01418"/>
<rect x="466.0" y="175.52" width="1.15" height="14.03" fill="#d81c22"/>
<rect x="467.0" y="175.52" width="1.15" height="14.03" fill="#d42024"/>
<rect x="468.0" y="175.52" width="1.15" height="14.03" fill="#b81016"/>
<rect x="327.5" y="189.45" width="1.65" height="14.03" fill="#8a3a58"/>
<rect x="329.0" y="189.45" width="1.35" height="14.03" fill="#a83040"/>
<rect x="330.2" y="189.45" width="1.15" height="14.03" fill="#4a88c8"/>
<rect x="331.2" y="189.45" width="2.15" height="14.03" fill="#70b8b8"/>
<rect x="333.2" y="189.45" width="2.15" height="14.03" fill="#78c0b0"/>
<rect x="335.2" y="189.45" width="1.15" height="14.03" fill="#60a8c0"/>
<rect x="336.2" y="189.45" width="1.15" height="14.03" fill="#88c8b0"/>
<rect x="337.2" y="189.45" width="2.15" height="14.03" fill="#60a8c0"/>
<rect x="339.2" y="189.45" width="1.15" height="14.03" fill="#60a8c0"/>
<rect x="340.2" y="189.45" width="1.15" height="14.03" fill="#5eb0b8"/>
<rect x="341.2" y="189.45" width="1.15" height="14.03" fill="#88c8b0"/>
<rect x="342.2" y="189.45" width="2.15" height="14.03" fill="#5c9cc8"/>
<rect x="344.2" y="189.45" width="1.15" height="14.03" fill="#6ab8b4"/>
<rect x="345.2" y="189.45" width="2.15" height="14.03" fill="#80c8a8"/>
<rect x="347.2" y="189.45" width="1.15" height="14.03" fill="#84c4a8"/>
<rect x="348.2" y="189.45" width="2.15" height="14.03" fill="#70b8b8"/>
<rect x="350.2" y="189.45" width="2.15" height="14.03" fill="#84c4a8"/>
<rect x="352.2" y="189.45" width="2.15" height="14.03" fill="#80c8a8"/>
<rect x="354.2" y="189.45" width="1.15" height="14.03" fill="#4a88c8"/>
<rect x="355.2" y="189.45" width="1.15" height="14.03" fill="#60a8c0"/>
<rect x="356.2" y="189.45" width="2.15" height="14.03" fill="#84c4a8"/>
<rect x="358.2" y="189.45" width="1.15" height="14.03" fill="#60a8c0"/>
<rect x="359.2" y="189.45" width="1.15" height="14.03" fill="#78c0b0"/>
<rect x="360.2" y="189.45" width="1.15" height="14.03" fill="#84c4a8"/>
<rect x="361.2" y="189.45" width="2.15" height="14.03" fill="#5c9cc8"/>
<rect x="363.2" y="189.45" width="2.15" height="14.03" fill="#4a88c8"/>
<rect x="365.2" y="189.45" width="1.15" height="14.03" fill="#84c4a8"/>
<rect x="366.2" y="189.45" width="2.15" height="14.03" fill="#6ab8b4"/>
<rect x="368.2" y="189.45" width="1.15" height="14.03" fill="#70b8b8"/>
<rect x="369.2" y="189.45" width="2.15" height="14.03" fill="#70b8b8"/>
<rect x="371.2" y="189.45" width="2.15" height="14.03" fill="#4a88c8"/>
<rect x="373.2" y="189.45" width="2.15" height="14.03" fill="#4a88c8"/>
<rect x="375.2" y="189.45" width="1.15" height="14.03" fill="#5c9cc8"/>
<rect x="376.2" y="189.45" width="0.45" height="14.03" fill="#4a88c8"/>
<rect x="376.5" y="189.45" width="1.15" height="14.03" fill="#60a8c0"/>
<rect x="377.5" y="189.45" width="1.15" height="14.03" fill="#60a8c0"/>
<rect x="378.5" y="189.45" width="2.15" height="14.03" fill="#5eb0b8"/>
<rect x="380.5" y="189.45" width="2.15" height="14.03" fill="#78c8c8"/>
<rect x="382.5" y="189.45" width="1.15" height="14.03" fill="#60a8c0"/>
<rect x="383.5" y="189.45" width="2.15" height="14.03" fill="#60a8c0"/>
<rect x="385.5" y="189.45" width="2.15" height="14.03" fill="#78c8c8"/>
<rect x="387.5" y="189.45" width="2.15" height="14.03" fill="#70b8b8"/>
<rect x="389.5" y="189.45" width="2.15" height="14.03" fill="#78c8c8"/>
<rect x="391.5" y="189.45" width="0.65" height="14.03" fill="#5c9cc8"/>
<rect x="392.0" y="189.45" width="2.15" height="14.03" fill="#e85020"/>
<rect x="394.0" y="189.45" width="2.15" height="14.03" fill="#e85020"/>
<rect x="396.0" y="189.45" width="2.15" height="14.03" fill="#f06020"/>
<rect x="398.0" y="189.45" width="1.15" height="14.03" fill="#f06020"/>
<rect x="399.0" y="189.45" width="0.65" height="14.03" fill="#e85020"/>
<rect x="399.5" y="189.45" width="1.15" height="14.03" fill="#60a8c0"/>
<rect x="400.5" y="189.45" width="2.15" height="14.03" fill="#6ab8b4"/>
<rect x="402.5" y="189.45" width="2.15" height="14.03" fill="#60a8c0"/>
<rect x="404.5" y="189.45" width="1.15" height="14.03" fill="#a0c8a0"/>
<rect x="405.5" y="189.45" width="2.15" height="14.03" fill="#78c0b0"/>
<rect x="407.5" y="189.45" width="1.15" height="14.03" fill="#60a8c0"/>
<rect x="408.5" y="189.45" width="2.15" height="14.03" fill="#70b8b8"/>
<rect x="410.5" y="189.45" width="1.15" height="14.03" fill="#6ab8b4"/>
<rect x="411.5" y="189.45" width="1.15" height="14.03" fill="#5c9cc8"/>
<rect x="412.5" y="189.45" width="1.15" height="14.03" fill="#84c4a8"/>
<rect x="413.5" y="189.45" width="1.15" height="14.03" fill="#6ab8b4"/>
<rect x="414.5" y="189.45" width="2.15" height="14.03" fill="#5c9cc8"/>
<rect x="416.5" y="189.45" width="1.15" height="14.03" fill="#84c4a8"/>
<rect x="417.5" y="189.45" width="1.15" height="14.03" fill="#88c8b0"/>
<rect x="418.5" y="189.45" width="1.15" height="14.03" fill="#78c0b0"/>
<rect x="419.5" y="189.45" width="2.15" height="14.03" fill="#5c9cc8"/>
<rect x="421.5" y="189.45" width="1.15" height="14.03" fill="#88a8a8"/>
<rect x="422.5" y="189.45" width="2.15" height="14.03" fill="#5c9cc8"/>
<rect x="424.5" y="189.45" width="2.15" height="14.03" fill="#88a8a8"/>
<rect x="426.5" y="189.45" width="2.15" height="14.03" fill="#88c8b0"/>
<rect x="428.5" y="189.45" width="1.15" height="14.03" fill="#70b8b8"/>
<rect x="429.5" y="189.45" width="1.15" height="14.03" fill="#84c4a8"/>
<rect x="430.5" y="189.45" width="2.15" height="14.03" fill="#78c0b0"/>
<rect x="432.5" y="189.45" width="2.15" height="14.03" fill="#98b8a0"/>
<rect x="434.5" y="189.45" width="2.15" height="14.03" fill="#70b8b8"/>
<rect x="436.5" y="189.45" width="1.15" height="14.03" fill="#a0c8a0"/>
<rect x="437.5" y="189.45" width="1.15" height="14.03" fill="#70b8b8"/>
<rect x="438.5" y="189.45" width="1.15" height="14.03" fill="#84c4a8"/>
<rect x="439.5" y="189.45" width="1.15" height="14.03" fill="#70c0a8"/>
<rect x="440.5" y="189.45" width="1.15" height="14.03" fill="#6ab8b4"/>
<rect x="441.5" y="189.45" width="1.15" height="14.03" fill="#6ab8b4"/>
<rect x="442.5" y="189.45" width="2.15" height="14.03" fill="#70b8b8"/>
<rect x="444.5" y="189.45" width="2.15" height="14.03" fill="#6ab8b4"/>
<rect x="446.5" y="189.45" width="1.15" height="14.03" fill="#78c0b0"/>
<rect x="447.5" y="189.45" width="1.15" height="14.03" fill="#70c0a8"/>
<rect x="448.5" y="189.45" width="2.15" height="14.03" fill="#78c0b0"/>
<rect x="450.5" y="189.45" width="1.15" height="14.03" fill="#5eb0b8"/>
<rect x="451.5" y="189.45" width="1.15" height="14.03" fill="#88c8b0"/>
<rect x="452.5" y="189.45" width="2.15" height="14.03" fill="#5c9cc8"/>
<rect x="454.5" y="189.45" width="0.65" height="14.03" fill="#84c4a8"/>
<rect x="455.0" y="189.45" width="2.15" height="14.03" fill="#b01418"/>
<rect x="457.0" y="189.45" width="2.15" height="14.03" fill="#9c0c14"/>
<rect x="459.0" y="189.45" width="1.15" height="14.03" fill="#a81018"/>
<rect x="460.0" y="189.45" width="1.15" height="14.03" fill="#b01418"/>
<rect x="461.0" y="189.45" width="1.15" height="14.03" fill="#b01418"/>
<rect x="462.0" y="189.45" width="1.15" height="14.03" fill="#9c0c14"/>
<rect x="463.0" y="189.45" width="2.15" height="14.03" fill="#f05028"/>
<rect x="465.0" y="189.45" width="1.15" height="14.03" fill="#f05028"/>
<rect x="466.0" y="189.45" width="1.15" height="14.03" fill="#f05028"/>
<rect x="467.0" y="189.45" width="2.15" height="14.03" fill="#f04420"/>
<line x1="327.4" y1="203.6" x2="327.4" y2="213.4" stroke="#666" stroke-width="0.7" stroke-dasharray="1.2 1.2"/>
<line x1="376.6" y1="203.6" x2="376.6" y2="213.4" stroke="#666" stroke-width="0.7" stroke-dasharray="1.2 1.2"/>
<line x1="383.9" y1="203.6" x2="383.9" y2="213.4" stroke="#666" stroke-width="0.7" stroke-dasharray="1.2 1.2"/>
<line x1="390.7" y1="203.6" x2="390.7" y2="213.4" stroke="#666" stroke-width="0.7" stroke-dasharray="1.2 1.2"/>
<line x1="398.4" y1="203.6" x2="398.4" y2="213.4" stroke="#666" stroke-width="0.7" stroke-dasharray="1.2 1.2"/>
<line x1="437.7" y1="203.6" x2="437.7" y2="213.4" stroke="#666" stroke-width="0.7" stroke-dasharray="1.2 1.2"/>
<line x1="455.8" y1="203.6" x2="455.8" y2="213.4" stroke="#666" stroke-width="0.7" stroke-dasharray="1.2 1.2"/>
<line x1="463.5" y1="203.6" x2="463.5" y2="213.4" stroke="#666" stroke-width="0.7" stroke-dasharray="1.2 1.2"/>
<line x1="468.9" y1="203.6" x2="468.9" y2="213.4" stroke="#666" stroke-width="0.7" stroke-dasharray="1.2 1.2"/>
<text x="351" y="212.2" font-family='"Liberation Sans", sans-serif' font-size="7.2" stroke="#1a1a1a" stroke-width="0.15" fill="#1a1a1a" text-anchor="middle">1</text>
<text x="380.2" y="212.2" font-family='"Liberation Sans", sans-serif' font-size="7.2" stroke="#1a1a1a" stroke-width="0.15" fill="#1a1a1a" text-anchor="middle">2</text>
<text x="387.3" y="212.2" font-family='"Liberation Sans", sans-serif' font-size="7.2" stroke="#1a1a1a" stroke-width="0.15" fill="#1a1a1a" text-anchor="middle">3</text>
<text x="394.6" y="212.2" font-family='"Liberation Sans", sans-serif' font-size="7.2" stroke="#1a1a1a" stroke-width="0.15" fill="#1a1a1a" text-anchor="middle">4</text>
<text x="417.6" y="212.2" font-family='"Liberation Sans", sans-serif' font-size="7.2" stroke="#1a1a1a" stroke-width="0.15" fill="#1a1a1a" text-anchor="middle">5</text>
<text x="447.2" y="212.2" font-family='"Liberation Sans", sans-serif' font-size="7.2" stroke="#1a1a1a" stroke-width="0.15" fill="#1a1a1a" text-anchor="middle">6</text>
<text x="459.4" y="212.2" font-family='"Liberation Sans", sans-serif' font-size="7.2" stroke="#1a1a1a" stroke-width="0.15" fill="#1a1a1a" text-anchor="middle">7</text>
<text x="466.2" y="212.2" font-family='"Liberation Sans", sans-serif' font-size="7.2" stroke="#1a1a1a" stroke-width="0.15" fill="#1a1a1a" text-anchor="middle">8</text>
<rect x="327.3" y="214.3" width="33.80" height="5.5" fill="#2b4fb3"/>
<rect x="361" y="214.3" width="10.30" height="5.5" fill="#b8b8c0"/>
<rect x="371.2" y="214.3" width="1.50" height="5.5" fill="#62c6de"/>
<rect x="372.6" y="214.3" width="1.50" height="5.5" fill="#b060b0"/>
<rect x="374" y="214.3" width="2.30" height="5.5" fill="#62c6de"/>
<rect x="376.2" y="214.3" width="7.30" height="5.5" fill="#5cc8d8"/>
<rect x="383.4" y="214.3" width="1.70" height="5.5" fill="#6a4090"/>
<rect x="385" y="214.3" width="3.60" height="5.5" fill="#9e4db0"/>
<rect x="388.5" y="214.3" width="2.20" height="5.5" fill="#62c6de"/>
<rect x="390.6" y="214.3" width="2.30" height="5.5" fill="#7a3c8c"/>
<rect x="392.8" y="214.3" width="4.30" height="5.5" fill="#b040b0"/>
<rect x="397" y="214.3" width="2.70" height="5.5" fill="#62c6de"/>
<rect x="399.6" y="214.3" width="14.70" height="5.5" fill="#5ec4d8"/>
<rect x="414.2" y="214.3" width="7.90" height="5.5" fill="#f2e61a"/>
<rect x="422" y="214.3" width="7.70" height="5.5" fill="#2b4fb3"/>
<rect x="429.6" y="214.3" width="7.00" height="5.5" fill="#a046b4"/>
<rect x="436.5" y="214.3" width="1.60" height="5.5" fill="#b8b8c0"/>
<rect x="438" y="214.3" width="8.60" height="5.5" fill="#2b4fb3"/>
<rect x="446.5" y="214.3" width="3.20" height="5.5" fill="#4ab0c0"/>
<rect x="449.6" y="214.3" width="2.50" height="5.5" fill="#70d0e0"/>
<rect x="452" y="214.3" width="2.10" height="5.5" fill="#f2e61a"/>
<rect x="454" y="214.3" width="1.90" height="5.5" fill="#62c6de"/>
<rect x="455.8" y="214.3" width="2.30" height="5.5" fill="#a046b4"/>
<rect x="458" y="214.3" width="1.70" height="5.5" fill="#2b4fb3"/>
<rect x="459.6" y="214.3" width="2.50" height="5.5" fill="#f2e61a"/>
<rect x="462" y="214.3" width="1.60" height="5.5" fill="#a046b4"/>
<rect x="463.5" y="214.3" width="1.60" height="5.5" fill="#2b4fb3"/>
<rect x="465" y="214.3" width="1.60" height="5.5" fill="#a046b4"/>
<rect x="466.5" y="214.3" width="1.60" height="5.5" fill="#f2e61a"/>
<rect x="467.8" y="214.3" width="1.30" height="5.5" fill="#62c6de"/>
<rect x="471.3" y="119.8" width="47.6" height="99" fill="none" stroke="#3f9fd0" stroke-width="0.9" stroke-dasharray="2.2 1.6"/>
<text x="474" y="126.6" font-family='"Liberation Sans", sans-serif' font-size="6.4" font-weight="normal" fill="#1a1a1a" text-anchor="start" textLength="36.6" lengthAdjust="spacingAndGlyphs" stroke="#1a1a1a" stroke-width="0.2">RM expression</text>
<defs><linearGradient id="cb" x1="0" y1="0" x2="0" y2="1"><stop offset="0" stop-color="#10146e"/><stop offset="0.2" stop-color="#1a2aa0"/><stop offset="0.3" stop-color="#2a50d0"/><stop offset="0.36" stop-color="#40b0e4"/><stop offset="0.41" stop-color="#90d080"/><stop offset="0.45" stop-color="#f0e030"/><stop offset="0.5" stop-color="#f28020"/><stop offset="0.55" stop-color="#e02a1c"/><stop offset="0.66" stop-color="#b01212"/><stop offset="0.85" stop-color="#7c0a10"/><stop offset="1" stop-color="#5e0810"/></linearGradient></defs>
<rect x="481" y="128.4" width="8.5" height="32.2" fill="url(#cb)"/>
<text x="493.4" y="136.9" font-family='"Liberation Sans", sans-serif' font-size="6.4" font-weight="normal" fill="#1a1a1a" text-anchor="start" stroke="#1a1a1a" stroke-width="0.2">−1</text>
<text x="493.4" y="144.4" font-family='"Liberation Sans", sans-serif' font-size="6.4" font-weight="normal" fill="#1a1a1a" text-anchor="start" stroke="#1a1a1a" stroke-width="0.2">0</text>
<text x="493.4" y="152.0" font-family='"Liberation Sans", sans-serif' font-size="6.4" font-weight="normal" fill="#1a1a1a" text-anchor="start" stroke="#1a1a1a" stroke-width="0.2">1</text>
<text x="493.4" y="160.10000000000002" font-family='"Liberation Sans", sans-serif' font-size="6.4" font-weight="normal" fill="#1a1a1a" text-anchor="start" stroke="#1a1a1a" stroke-width="0.2">2</text>
<text x="474.3" y="170.4" font-family='"Liberation Sans", sans-serif' font-size="6.4" font-weight="normal" fill="#1a1a1a" text-anchor="start" textLength="42.2" lengthAdjust="spacingAndGlyphs" stroke="#1a1a1a" stroke-width="0.2">PAM50 subtypes</text>
<rect x="477" y="172.4" width="7" height="6.9" fill="#2b4fb3"/>
<text x="487" y="178.20000000000002" font-family='"Liberation Sans", sans-serif' font-size="6.4" font-weight="normal" fill="#1a1a1a" text-anchor="start" stroke="#1a1a1a" stroke-width="0.2">LumA</text>
<rect x="477" y="182.0" width="7" height="6.9" fill="#62c6de"/>
<text x="487" y="187.82000000000002" font-family='"Liberation Sans", sans-serif' font-size="6.4" font-weight="normal" fill="#1a1a1a" text-anchor="start" stroke="#1a1a1a" stroke-width="0.2">LumB</text>
<rect x="477" y="191.6" width="7" height="6.9" fill="#a046b4"/>
<text x="487" y="197.44000000000003" font-family='"Liberation Sans", sans-serif' font-size="6.4" font-weight="normal" fill="#1a1a1a" text-anchor="start" stroke="#1a1a1a" stroke-width="0.2">Basal-like</text>
<rect x="477" y="201.3" width="7" height="6.9" fill="#f5ea0a"/>
<text x="487" y="207.06" font-family='"Liberation Sans", sans-serif' font-size="6.4" font-weight="normal" fill="#1a1a1a" text-anchor="start" stroke="#1a1a1a" stroke-width="0.2">Her2</text>
<rect x="477" y="210.9" width="7" height="6.9" fill="#bababa"/>
<text x="487" y="216.68" font-family='"Liberation Sans", sans-serif' font-size="6.4" font-weight="normal" fill="#1a1a1a" text-anchor="start" stroke="#1a1a1a" stroke-width="0.2">Normal-like</text>
<text x="109.8" y="296.2" font-family='"Liberation Sans", sans-serif' font-size="14" font-weight="bold" fill="#111" text-anchor="start">D</text>
<rect x="152.6" y="294.4" width="206.8" height="151.8" fill="none" stroke="#666" stroke-width="0.9"/>
<line x1="148.4" y1="300.2" x2="152.6" y2="300.2" stroke="#555" stroke-width="0.9"/>
<text x="145.0" y="302.95" font-family='"Liberation Sans", sans-serif' font-size="7.8" font-weight="normal" fill="#1a1a1a" text-anchor="end" textLength="15.4" lengthAdjust="spacingAndGlyphs" stroke="#1a1a1a" stroke-width="0.22">1.00</text>
<line x1="148.4" y1="346.9" x2="152.6" y2="346.9" stroke="#555" stroke-width="0.9"/>
<text x="145.0" y="349.65" font-family='"Liberation Sans", sans-serif' font-size="7.8" font-weight="normal" fill="#1a1a1a" text-anchor="end" textLength="15.4" lengthAdjust="spacingAndGlyphs" stroke="#1a1a1a" stroke-width="0.22">0.75</text>
<line x1="148.4" y1="393.6" x2="152.6" y2="393.6" stroke="#555" stroke-width="0.9"/>
<text x="145.0" y="396.35" font-family='"Liberation Sans", sans-serif' font-size="7.8" font-weight="normal" fill="#1a1a1a" text-anchor="end" textLength="15.4" lengthAdjust="spacingAndGlyphs" stroke="#1a1a1a" stroke-width="0.22">0.50</text>
<line x1="148.4" y1="440.3" x2="152.6" y2="440.3" stroke="#555" stroke-width="0.9"/>
<text x="145.0" y="443.05" font-family='"Liberation Sans", sans-serif' font-size="7.8" font-weight="normal" fill="#1a1a1a" text-anchor="end" textLength="15.4" lengthAdjust="spacingAndGlyphs" stroke="#1a1a1a" stroke-width="0.22">0.25</text>
<line x1="152.7" y1="446.2" x2="152.7" y2="449.6" stroke="#555" stroke-width="0.9"/>
<text x="152.7" y="461.7" font-family='"Liberation Sans", sans-serif' font-size="7.2" font-weight="normal" fill="#1a1a1a" text-anchor="middle" stroke="#1a1a1a" stroke-width="0.22">0</text>
<line x1="207.0" y1="446.2" x2="207.0" y2="449.6" stroke="#555" stroke-width="0.9"/>
<text x="207.0" y="461.7" font-family='"Liberation Sans", sans-serif' font-size="7.2" font-weight="normal" fill="#1a1a1a" text-anchor="middle" stroke="#1a1a1a" stroke-width="0.22">1,500</text>
<line x1="261.3" y1="446.2" x2="261.3" y2="449.6" stroke="#555" stroke-width="0.9"/>
<text x="261.29999999999995" y="461.7" font-family='"Liberation Sans", sans-serif' font-size="7.2" font-weight="normal" fill="#1a1a1a" text-anchor="middle" stroke="#1a1a1a" stroke-width="0.22">3,000</text>
<line x1="315.6" y1="446.2" x2="315.6" y2="449.6" stroke="#555" stroke-width="0.9"/>
<text x="315.6" y="461.7" font-family='"Liberation Sans", sans-serif' font-size="7.2" font-weight="normal" fill="#1a1a1a" text-anchor="middle" stroke="#1a1a1a" stroke-width="0.22">4,500</text>
<text x="254.9" y="474.4" font-family='"Liberation Sans", sans-serif' font-size="7.8" font-weight="normal" fill="#1a1a1a" text-anchor="middle" textLength="17.3" lengthAdjust="spacingAndGlyphs" stroke="#1a1a1a" stroke-width="0.2">Days</text>
<text transform="translate(120.5 401.7) rotate(-90)" font-family='"Liberation Sans", sans-serif' font-size="9.0" fill="#1a1a1a" stroke="#1a1a1a" stroke-width="0.15" textLength="69.5" lengthAdjust="spacingAndGlyphs">Survival probability</text>
<text x="285.4" y="313.4" font-family='"Liberation Sans", sans-serif' font-size="8.1" fill="#1a1a1a" stroke="#1a1a1a" stroke-width="0.15" textLength="47" lengthAdjust="spacing"><tspan font-style="italic">P</tspan> = 1.06 × 10</text>
<text x="333.2" y="309.6" font-family='"Liberation Sans", sans-serif' font-size="5.6" fill="#1a1a1a" stroke="#1a1a1a" stroke-width="0.1" textLength="10" lengthAdjust="spacingAndGlyphs">−28</text>
<path d="M152.6 300.2 L154.5 300.2 L154.5 300.3 L156.3 300.3 L156.3 300.3 L158.2 300.3 L158.2 300.4 L160.0 300.4 L160.0 300.4 L161.9 300.4 L161.9 300.5 L163.7 300.5 L163.7 300.5 L165.6 300.5 L165.6 300.6 L167.4 300.6 L167.4 300.6 L169.3 300.6 L169.3 300.7 L171.1 300.7 L171.1 300.7 L173.0 300.7 L173.0 300.8 L174.9 300.8 L174.9 301.2 L176.9 301.2 L176.9 301.6 L178.8 301.6 L178.8 301.9 L180.7 301.9 L180.7 302.3 L182.7 302.3 L182.7 302.7 L184.6 302.7 L184.6 303.1 L186.5 303.1 L186.5 303.4 L188.5 303.4 L188.5 303.8 L190.4 303.8 L190.4 304.2 L192.3 304.2 L192.3 304.8 L194.2 304.8 L194.2 305.5 L196.2 305.5 L196.2 306.1 L198.1 306.1 L198.1 306.8 L200.0 306.8 L200.0 307.4 L201.9 307.4 L201.9 308.1 L203.9 308.1 L203.9 308.7 L205.8 308.7 L205.8 309.4 L207.7 309.4 L207.7 310.0 L209.5 310.0 L209.5 310.7 L211.3 310.7 L211.3 311.4 L213.2 311.4 L213.2 312.1 L215.0 312.1 L215.0 312.8 L217.0 312.8 L217.0 313.3 L218.9 313.3 L218.9 313.8 L220.9 313.8 L220.9 314.4 L222.8 314.4 L222.8 314.9 L224.8 314.9 L224.8 315.4 L226.8 315.4 L226.8 315.9 L228.7 315.9 L228.7 316.4 L230.7 316.4 L230.7 317.0 L232.6 317.0 L232.6 317.5 L234.6 317.5 L234.6 318.0 L236.5 318.0 L236.5 318.7 L238.4 318.7 L238.4 319.3 L240.3 319.3 L240.3 320.0 L242.2 320.0 L242.2 320.7 L244.1 320.7 L244.1 321.3 L246.0 321.3 L246.0 322.0 L248.0 322.0 L248.0 322.5 L250.0 322.5 L250.0 323.0 L252.0 323.0 L252.0 323.5 L254.0 323.5 L254.0 324.0 L256.0 324.0 L256.0 324.5 L258.0 324.5 L258.0 325.0 L260.0 325.0 L260.0 325.5 L261.9 325.5 L261.9 326.1 L263.8 326.1 L263.8 326.7 L265.8 326.7 L265.8 327.3 L267.7 327.3 L267.7 328.0 L269.6 328.0 L269.6 328.6 L271.5 328.6 L271.5 329.2 L273.5 329.2 L273.5 329.8 L275.4 329.8 L275.4 330.4 L277.3 330.4 L277.3 331.0 L279.2 331.0 L279.2 331.7 L281.2 331.7 L281.2 332.3 L283.1 332.3 L283.1 332.9 L285.0 332.9 L285.0 333.5 L286.8 333.5 L286.8 334.3 L288.6 334.3 L288.6 335.0 L290.4 335.0 L290.4 335.8 L292.3 335.8 L292.3 336.5 L294.1 336.5 L294.1 337.3 L295.9 337.3 L295.9 338.0 L297.7 338.0 L297.7 338.8 L299.5 338.8 L299.5 339.3 L301.3 339.3 L301.3 339.9 L303.1 339.9 L303.1 340.4 L304.9 340.4 L304.9 341.0 L306.7 341.0 L306.7 341.5 L308.5 341.5 L308.5 342.1 L310.3 342.1 L310.3 342.6 L312.4 342.6 L312.4 343.4 L314.5 343.4 L314.5 344.3 L316.6 344.3 L316.6 345.1 L318.6 345.1 L318.6 345.9 L320.7 345.9 L320.7 346.8 L322.8 346.8 L322.8 347.6 L324.9 347.6 L324.9 348.5 L327.0 348.5 L327.0 349.3 L329.1 349.3 L329.1 350.1 L331.2 350.1 L331.2 351.0 L333.3 351.0 L333.3 351.9 L335.4 351.9 L335.4 352.7 L337.2 352.7 L337.2 353.4 L339.0 353.4 L339.0 354.1 L340.8 354.1 L340.8 354.8 L342.6 354.8 L342.6 355.6 L344.4 355.6 L344.4 356.3 L346.2 356.3 L346.2 357.0 L348.0 357.0 L348.0 357.7 L350.5 357.7 L350.5 359.0" fill="none" stroke="#d47cc4" stroke-width="2.2" stroke-linejoin="miter"/>
<line x1="305.5" y1="338.9" x2="305.5" y2="343.5" stroke="#d47cc4" stroke-width="0.7"/>
<line x1="296.3" y1="335.9" x2="296.3" y2="340.5" stroke="#d47cc4" stroke-width="0.7"/>
<line x1="288.4" y1="332.6" x2="288.4" y2="337.2" stroke="#d47cc4" stroke-width="0.7"/>
<line x1="342.3" y1="353.1" x2="342.3" y2="357.7" stroke="#d47cc4" stroke-width="0.7"/>
<line x1="323.0" y1="345.4" x2="323.0" y2="350.0" stroke="#d47cc4" stroke-width="0.7"/>
<line x1="325.0" y1="346.2" x2="325.0" y2="350.8" stroke="#d47cc4" stroke-width="0.7"/>
<line x1="205.3" y1="306.9" x2="205.3" y2="311.5" stroke="#d47cc4" stroke-width="0.7"/>
<line x1="313.1" y1="341.4" x2="313.1" y2="346.0" stroke="#d47cc4" stroke-width="0.7"/>
<line x1="325.8" y1="346.5" x2="325.8" y2="351.1" stroke="#d47cc4" stroke-width="0.7"/>
<line x1="324.9" y1="346.2" x2="324.9" y2="350.8" stroke="#d47cc4" stroke-width="0.7"/>
<line x1="336.4" y1="350.8" x2="336.4" y2="355.4" stroke="#d47cc4" stroke-width="0.7"/>
<line x1="335.3" y1="350.4" x2="335.3" y2="355.0" stroke="#d47cc4" stroke-width="0.7"/>
<line x1="284.2" y1="331.0" x2="284.2" y2="335.6" stroke="#d47cc4" stroke-width="0.7"/>
<line x1="243.2" y1="318.7" x2="243.2" y2="323.3" stroke="#d47cc4" stroke-width="0.7"/>
<line x1="280.1" y1="329.6" x2="280.1" y2="334.2" stroke="#d47cc4" stroke-width="0.7"/>
<line x1="247.4" y1="320.1" x2="247.4" y2="324.7" stroke="#d47cc4" stroke-width="0.7"/>
<line x1="327.6" y1="347.2" x2="327.6" y2="351.8" stroke="#d47cc4" stroke-width="0.7"/>
<line x1="302.6" y1="338.0" x2="302.6" y2="342.6" stroke="#d47cc4" stroke-width="0.7"/>
<line x1="292.2" y1="334.2" x2="292.2" y2="338.8" stroke="#d47cc4" stroke-width="0.7"/>
<line x1="271.1" y1="326.7" x2="271.1" y2="331.3" stroke="#d47cc4" stroke-width="0.7"/>
<line x1="202.9" y1="306.1" x2="202.9" y2="310.7" stroke="#d47cc4" stroke-width="0.7"/>
<line x1="248.0" y1="320.2" x2="248.0" y2="324.8" stroke="#d47cc4" stroke-width="0.7"/>
<line x1="230.2" y1="314.5" x2="230.2" y2="319.1" stroke="#d47cc4" stroke-width="0.7"/>
<line x1="293.6" y1="334.8" x2="293.6" y2="339.4" stroke="#d47cc4" stroke-width="0.7"/>
<line x1="313.6" y1="341.6" x2="313.6" y2="346.2" stroke="#d47cc4" stroke-width="0.7"/>
<line x1="303.9" y1="338.4" x2="303.9" y2="343.0" stroke="#d47cc4" stroke-width="0.7"/>
<line x1="291.0" y1="333.7" x2="291.0" y2="338.3" stroke="#d47cc4" stroke-width="0.7"/>
<line x1="199.8" y1="305.1" x2="199.8" y2="309.7" stroke="#d47cc4" stroke-width="0.7"/>
<line x1="291.6" y1="333.9" x2="291.6" y2="338.5" stroke="#d47cc4" stroke-width="0.7"/>
<line x1="283.0" y1="330.6" x2="283.0" y2="335.2" stroke="#d47cc4" stroke-width="0.7"/>
<line x1="241.6" y1="318.2" x2="241.6" y2="322.8" stroke="#d47cc4" stroke-width="0.7"/>
<line x1="340.6" y1="352.5" x2="340.6" y2="357.1" stroke="#d47cc4" stroke-width="0.7"/>
<line x1="268.1" y1="325.8" x2="268.1" y2="330.4" stroke="#d47cc4" stroke-width="0.7"/>
<line x1="268.2" y1="325.8" x2="268.2" y2="330.4" stroke="#d47cc4" stroke-width="0.7"/>
<line x1="310.4" y1="340.3" x2="310.4" y2="344.9" stroke="#d47cc4" stroke-width="0.7"/>
<line x1="178.8" y1="299.6" x2="178.8" y2="304.2" stroke="#d47cc4" stroke-width="0.7"/>
<line x1="288.9" y1="332.8" x2="288.9" y2="337.4" stroke="#d47cc4" stroke-width="0.7"/>
<line x1="320.0" y1="344.2" x2="320.0" y2="348.8" stroke="#d47cc4" stroke-width="0.7"/>
<line x1="244.7" y1="319.2" x2="244.7" y2="323.8" stroke="#d47cc4" stroke-width="0.7"/>
<line x1="325.2" y1="346.3" x2="325.2" y2="350.9" stroke="#d47cc4" stroke-width="0.7"/>
<line x1="287.3" y1="332.1" x2="287.3" y2="336.7" stroke="#d47cc4" stroke-width="0.7"/>
<line x1="186.0" y1="301.0" x2="186.0" y2="305.6" stroke="#d47cc4" stroke-width="0.7"/>
<line x1="333.2" y1="349.5" x2="333.2" y2="354.1" stroke="#d47cc4" stroke-width="0.7"/>
<line x1="316.7" y1="342.8" x2="316.7" y2="347.4" stroke="#d47cc4" stroke-width="0.7"/>
<line x1="248.3" y1="320.3" x2="248.3" y2="324.9" stroke="#d47cc4" stroke-width="0.7"/>
<line x1="343.0" y1="353.4" x2="343.0" y2="358.0" stroke="#d47cc4" stroke-width="0.7"/>
<line x1="345.0" y1="354.2" x2="345.0" y2="358.8" stroke="#d47cc4" stroke-width="0.7"/>
<line x1="296.9" y1="336.2" x2="296.9" y2="340.8" stroke="#d47cc4" stroke-width="0.7"/>
<line x1="200.0" y1="305.1" x2="200.0" y2="309.7" stroke="#d47cc4" stroke-width="0.7"/>
<line x1="185.3" y1="300.9" x2="185.3" y2="305.5" stroke="#d47cc4" stroke-width="0.7"/>
<line x1="215.8" y1="310.7" x2="215.8" y2="315.3" stroke="#d47cc4" stroke-width="0.7"/>
<line x1="283.8" y1="330.8" x2="283.8" y2="335.4" stroke="#d47cc4" stroke-width="0.7"/>
<line x1="235.9" y1="316.2" x2="235.9" y2="320.8" stroke="#d47cc4" stroke-width="0.7"/>
<line x1="280.3" y1="329.7" x2="280.3" y2="334.3" stroke="#d47cc4" stroke-width="0.7"/>
<line x1="281.9" y1="330.2" x2="281.9" y2="334.8" stroke="#d47cc4" stroke-width="0.7"/>
<line x1="200.8" y1="305.4" x2="200.8" y2="310.0" stroke="#d47cc4" stroke-width="0.7"/>
<line x1="250.9" y1="320.9" x2="250.9" y2="325.5" stroke="#d47cc4" stroke-width="0.7"/>
<line x1="242.1" y1="318.3" x2="242.1" y2="322.9" stroke="#d47cc4" stroke-width="0.7"/>
<line x1="348.2" y1="355.5" x2="348.2" y2="360.1" stroke="#d47cc4" stroke-width="0.7"/>
<line x1="308.1" y1="339.6" x2="308.1" y2="344.2" stroke="#d47cc4" stroke-width="0.7"/>
<line x1="317.7" y1="343.3" x2="317.7" y2="347.9" stroke="#d47cc4" stroke-width="0.7"/>
<line x1="246.8" y1="319.9" x2="246.8" y2="324.5" stroke="#d47cc4" stroke-width="0.7"/>
<line x1="192.4" y1="302.6" x2="192.4" y2="307.2" stroke="#d47cc4" stroke-width="0.7"/>
<line x1="288.2" y1="332.5" x2="288.2" y2="337.1" stroke="#d47cc4" stroke-width="0.7"/>
<line x1="305.1" y1="338.7" x2="305.1" y2="343.3" stroke="#d47cc4" stroke-width="0.7"/>
<line x1="303.9" y1="338.4" x2="303.9" y2="343.0" stroke="#d47cc4" stroke-width="0.7"/>
<line x1="311.3" y1="340.7" x2="311.3" y2="345.3" stroke="#d47cc4" stroke-width="0.7"/>
<line x1="347.8" y1="355.3" x2="347.8" y2="359.9" stroke="#d47cc4" stroke-width="0.7"/>
<line x1="261.4" y1="323.7" x2="261.4" y2="328.3" stroke="#d47cc4" stroke-width="0.7"/>
<line x1="221.9" y1="312.3" x2="221.9" y2="316.9" stroke="#d47cc4" stroke-width="0.7"/>
<line x1="268.4" y1="325.9" x2="268.4" y2="330.5" stroke="#d47cc4" stroke-width="0.7"/>
<line x1="226.7" y1="313.6" x2="226.7" y2="318.2" stroke="#d47cc4" stroke-width="0.7"/>
<line x1="184.0" y1="300.7" x2="184.0" y2="305.3" stroke="#d47cc4" stroke-width="0.7"/>
<line x1="260.6" y1="323.4" x2="260.6" y2="328.0" stroke="#d47cc4" stroke-width="0.7"/>
<line x1="266.0" y1="325.1" x2="266.0" y2="329.7" stroke="#d47cc4" stroke-width="0.7"/>
<line x1="278.5" y1="329.1" x2="278.5" y2="333.7" stroke="#d47cc4" stroke-width="0.7"/>
<line x1="299.2" y1="336.9" x2="299.2" y2="341.5" stroke="#d47cc4" stroke-width="0.7"/>
<line x1="338.2" y1="351.5" x2="338.2" y2="356.1" stroke="#d47cc4" stroke-width="0.7"/>
<line x1="315.2" y1="342.2" x2="315.2" y2="346.8" stroke="#d47cc4" stroke-width="0.7"/>
<line x1="298.4" y1="336.7" x2="298.4" y2="341.3" stroke="#d47cc4" stroke-width="0.7"/>
<path d="M152.6 300.2 L154.5 300.2 L154.5 300.3 L156.3 300.3 L156.3 300.5 L158.2 300.5 L158.2 300.6 L160.1 300.6 L160.1 300.8 L161.9 300.8 L161.9 300.9 L163.8 300.9 L163.8 301.1 L165.7 301.1 L165.7 301.2 L167.5 301.2 L167.5 301.4 L169.4 301.4 L169.4 301.6 L171.3 301.6 L171.3 301.7 L173.1 301.7 L173.1 301.9 L175.0 301.9 L175.0 302.0 L177.0 302.0 L177.0 302.7 L179.0 302.7 L179.0 303.4 L181.0 303.4 L181.0 304.1 L183.0 304.1 L183.0 304.8 L185.0 304.8 L185.0 305.5 L187.2 305.5 L187.2 306.6 L189.3 306.6 L189.3 307.8 L191.4 307.8 L191.4 308.9 L193.6 308.9 L193.6 310.0 L195.5 310.0 L195.5 311.3 L197.4 311.3 L197.4 312.6 L199.2 312.6 L199.2 314.0 L201.1 314.0 L201.1 315.3 L203.0 315.3 L203.0 316.6 L204.9 316.6 L204.9 317.7 L206.8 317.7 L206.8 318.9 L208.7 318.9 L208.7 320.0 L210.6 320.0 L210.6 321.2 L212.5 321.2 L212.5 322.3 L214.3 322.3 L214.3 323.2 L216.2 323.2 L216.2 324.0 L218.0 324.0 L218.0 324.9 L219.9 324.9 L219.9 325.8 L221.7 325.8 L221.7 326.7 L223.6 326.7 L223.6 327.5 L225.4 327.5 L225.4 328.4 L238.0 328.4 L240.0 328.4 L240.0 329.5 L242.0 329.5 L242.0 330.7 L244.0 330.7 L244.0 331.9 L246.0 331.9 L246.0 333.0 L247.9 333.0 L247.9 334.6 L249.8 334.6 L249.8 336.2 L251.6 336.2 L251.6 337.9 L253.5 337.9 L253.5 339.5 L255.4 339.5 L255.4 341.1 L257.7 341.1 L257.7 341.6 L260.0 341.6 L260.0 342.0 L285.0 342.0 L286.7 342.0 L286.7 343.9 L288.3 343.9 L288.3 345.8 L290.0 345.8 L290.0 347.7 L315.0 347.7 L316.0 347.7 L316.0 349.5 L317.0 349.5 L317.0 351.2 L318.0 351.2 L318.0 353.0 L352.0 353.0" fill="none" stroke="#6ccdc8" stroke-width="1.0" stroke-linejoin="miter"/>
<line x1="288.3" y1="344.2" x2="288.3" y2="347.4" stroke="#6ccdc8" stroke-width="0.7"/>
<line x1="246.6" y1="331.9" x2="246.6" y2="335.1" stroke="#6ccdc8" stroke-width="0.7"/>
<line x1="243.1" y1="329.7" x2="243.1" y2="332.9" stroke="#6ccdc8" stroke-width="0.7"/>
<line x1="182.2" y1="302.9" x2="182.2" y2="306.1" stroke="#6ccdc8" stroke-width="0.7"/>
<line x1="262.5" y1="340.4" x2="262.5" y2="343.6" stroke="#6ccdc8" stroke-width="0.7"/>
<line x1="285.2" y1="340.6" x2="285.2" y2="343.8" stroke="#6ccdc8" stroke-width="0.7"/>
<line x1="259.1" y1="340.2" x2="259.1" y2="343.4" stroke="#6ccdc8" stroke-width="0.7"/>
<line x1="296.6" y1="346.1" x2="296.6" y2="349.3" stroke="#6ccdc8" stroke-width="0.7"/>
<line x1="336.1" y1="351.4" x2="336.1" y2="354.6" stroke="#6ccdc8" stroke-width="0.7"/>
<line x1="304.4" y1="346.1" x2="304.4" y2="349.3" stroke="#6ccdc8" stroke-width="0.7"/>
<line x1="270.8" y1="340.4" x2="270.8" y2="343.6" stroke="#6ccdc8" stroke-width="0.7"/>
<line x1="339.7" y1="351.4" x2="339.7" y2="354.6" stroke="#6ccdc8" stroke-width="0.7"/>
<line x1="293.1" y1="346.1" x2="293.1" y2="349.3" stroke="#6ccdc8" stroke-width="0.7"/>
<line x1="306.8" y1="346.1" x2="306.8" y2="349.3" stroke="#6ccdc8" stroke-width="0.7"/>
<line x1="196.0" y1="310.1" x2="196.0" y2="313.3" stroke="#6ccdc8" stroke-width="0.7"/>
<line x1="329.0" y1="351.4" x2="329.0" y2="354.6" stroke="#6ccdc8" stroke-width="0.7"/>
<line x1="240.4" y1="328.2" x2="240.4" y2="331.4" stroke="#6ccdc8" stroke-width="0.7"/>
<line x1="343.4" y1="351.4" x2="343.4" y2="354.6" stroke="#6ccdc8" stroke-width="0.7"/>
<line x1="246.9" y1="332.1" x2="246.9" y2="335.3" stroke="#6ccdc8" stroke-width="0.7"/>
<line x1="333.4" y1="351.4" x2="333.4" y2="354.6" stroke="#6ccdc8" stroke-width="0.7"/>
<line x1="305.1" y1="346.1" x2="305.1" y2="349.3" stroke="#6ccdc8" stroke-width="0.7"/>
<line x1="323.1" y1="351.4" x2="323.1" y2="354.6" stroke="#6ccdc8" stroke-width="0.7"/>
<line x1="242.0" y1="329.1" x2="242.0" y2="332.3" stroke="#6ccdc8" stroke-width="0.7"/>
<line x1="263.7" y1="340.4" x2="263.7" y2="343.6" stroke="#6ccdc8" stroke-width="0.7"/>
<line x1="240.9" y1="328.5" x2="240.9" y2="331.7" stroke="#6ccdc8" stroke-width="0.7"/>
<line x1="189.6" y1="306.3" x2="189.6" y2="309.5" stroke="#6ccdc8" stroke-width="0.7"/>
<line x1="339.2" y1="351.4" x2="339.2" y2="354.6" stroke="#6ccdc8" stroke-width="0.7"/>
<line x1="311.6" y1="346.1" x2="311.6" y2="349.3" stroke="#6ccdc8" stroke-width="0.7"/>
<line x1="326.1" y1="351.4" x2="326.1" y2="354.6" stroke="#6ccdc8" stroke-width="0.7"/>
<line x1="258.0" y1="340.0" x2="258.0" y2="343.2" stroke="#6ccdc8" stroke-width="0.7"/>
<line x1="229.6" y1="326.8" x2="229.6" y2="330.0" stroke="#6ccdc8" stroke-width="0.7"/>
<line x1="341.4" y1="351.4" x2="341.4" y2="354.6" stroke="#6ccdc8" stroke-width="0.7"/>
<line x1="279.6" y1="340.4" x2="279.6" y2="343.6" stroke="#6ccdc8" stroke-width="0.7"/>
<line x1="331.3" y1="351.4" x2="331.3" y2="354.6" stroke="#6ccdc8" stroke-width="0.7"/>
<line x1="334.3" y1="351.4" x2="334.3" y2="354.6" stroke="#6ccdc8" stroke-width="0.7"/>
<line x1="330.7" y1="351.4" x2="330.7" y2="354.6" stroke="#6ccdc8" stroke-width="0.7"/>
<line x1="186.4" y1="304.7" x2="186.4" y2="307.9" stroke="#6ccdc8" stroke-width="0.7"/>
<line x1="270.3" y1="340.4" x2="270.3" y2="343.6" stroke="#6ccdc8" stroke-width="0.7"/>
<line x1="281.3" y1="340.4" x2="281.3" y2="343.6" stroke="#6ccdc8" stroke-width="0.7"/>
<line x1="334.7" y1="351.4" x2="334.7" y2="354.6" stroke="#6ccdc8" stroke-width="0.7"/>
<path d="M152.6 300.2 L154.4 300.2 L154.4 300.3 L156.2 300.3 L156.2 300.5 L158.0 300.5 L158.0 300.6 L159.2 300.6 L159.2 301.2 L160.3 301.2 L160.3 303.5 L161.5 303.5 L161.5 305.8 L162.5 305.8 L162.5 307.9 L163.6 307.9 L163.6 309.9 L164.6 309.9 L164.6 312.0 L166.6 312.0 L166.6 313.5 L168.5 313.5 L168.5 315.0 L168.7 315.0 L168.7 317.0 L169.0 317.0 L169.0 319.0 L169.2 319.0 L169.2 321.0 L169.5 321.0 L169.5 322.7 L169.7 322.7 L169.7 324.3 L170.0 324.3 L170.0 326.0 L171.3 326.0 L171.3 327.6 L172.5 327.6 L172.5 329.2 L173.8 329.2 L173.8 330.8 L174.3 330.8 L174.3 332.5 L174.7 332.5 L174.7 334.2 L175.2 334.2 L175.2 336.0 L175.7 336.0 L175.7 337.7 L176.1 337.7 L176.1 339.4 L176.6 339.4 L176.6 341.1 L177.3 341.1 L177.3 342.8 L178.0 342.8 L178.0 344.4 L178.7 344.4 L178.7 346.1 L179.4 346.1 L179.4 347.7 L179.9 347.7 L179.9 349.4 L180.4 349.4 L180.4 351.0 L180.8 351.0 L180.8 352.6 L181.3 352.6 L181.3 354.3 L182.5 354.3 L182.5 356.0 L183.7 356.0 L183.7 357.8 L184.9 357.8 L184.9 359.5 L186.1 359.5 L186.1 361.3 L187.3 361.3 L187.3 363.0 L189.2 363.0 L189.2 364.3 L191.1 364.3 L191.1 365.7 L193.0 365.7 L193.0 367.0 L194.0 367.0 L194.0 368.9 L195.0 368.9 L195.0 370.8 L196.0 370.8 L196.0 372.7 L197.0 372.7 L197.0 374.6 L197.9 374.6 L197.9 376.5 L198.9 376.5 L198.9 378.5 L199.9 378.5 L199.9 380.4 L200.8 380.4 L200.8 382.3 L201.3 382.3 L201.3 384.2 L201.8 384.2 L201.8 386.1 L202.2 386.1 L202.2 388.1 L202.7 388.1 L202.7 390.0 L203.7 390.0 L203.7 391.6 L204.6 391.6 L204.6 393.2 L205.6 393.2 L205.6 394.8 L208.5 394.8 L208.5 397.7 L210.4 397.7 L210.4 398.3 L212.3 398.3 L212.3 399.0 L214.2 399.0 L214.2 399.6 L216.1 399.6 L216.1 400.2 L218.1 400.2 L218.1 400.9 L220.0 400.9 L220.0 401.5 L221.9 401.5 L221.9 401.8 L223.8 401.8 L223.8 402.0 L225.8 402.0 L225.8 402.2 L227.7 402.2 L227.7 402.5 L229.6 402.5 L229.6 403.1 L231.6 403.1 L231.6 403.8 L233.5 403.8 L233.5 404.4 L235.4 404.4 L235.4 404.7 L237.3 404.7 L237.3 405.1 L239.2 405.1 L239.2 405.4 L241.1 405.4 L241.1 405.6 L243.0 405.6 L243.0 405.8 L245.0 405.8 L245.0 405.9 L246.9 405.9 L246.9 406.1 L248.8 406.1 L248.8 406.3 L249.5 406.3 L249.5 407.9 L250.1 407.9 L250.1 409.6 L250.8 409.6 L250.8 411.2 L268.8 411.2 L268.8 415.0 L286.4 415.0 L286.4 419.2 L304.0 419.2 L304.0 424.3 L350.5 424.3" fill="none" stroke="#cc6456" stroke-width="0.9" stroke-linejoin="miter"/>
<line x1="279.3" y1="413.4" x2="279.3" y2="416.6" stroke="#cc6456" stroke-width="0.7"/>
<line x1="234.8" y1="403.0" x2="234.8" y2="406.2" stroke="#cc6456" stroke-width="0.7"/>
<line x1="311.5" y1="422.7" x2="311.5" y2="425.9" stroke="#cc6456" stroke-width="0.7"/>
<line x1="335.7" y1="422.7" x2="335.7" y2="425.9" stroke="#cc6456" stroke-width="0.7"/>
<line x1="321.6" y1="422.7" x2="321.6" y2="425.9" stroke="#cc6456" stroke-width="0.7"/>
<line x1="327.0" y1="422.7" x2="327.0" y2="425.9" stroke="#cc6456" stroke-width="0.7"/>
<line x1="287.3" y1="417.6" x2="287.3" y2="420.8" stroke="#cc6456" stroke-width="0.7"/>
<line x1="333.8" y1="422.7" x2="333.8" y2="425.9" stroke="#cc6456" stroke-width="0.7"/>
<line x1="309.1" y1="422.7" x2="309.1" y2="425.9" stroke="#cc6456" stroke-width="0.7"/>
<line x1="336.0" y1="422.7" x2="336.0" y2="425.9" stroke="#cc6456" stroke-width="0.7"/>
<line x1="318.1" y1="422.7" x2="318.1" y2="425.9" stroke="#cc6456" stroke-width="0.7"/>
<line x1="274.4" y1="413.4" x2="274.4" y2="416.6" stroke="#cc6456" stroke-width="0.7"/>
<line x1="298.0" y1="417.6" x2="298.0" y2="420.8" stroke="#cc6456" stroke-width="0.7"/>
<line x1="285.5" y1="413.4" x2="285.5" y2="416.6" stroke="#cc6456" stroke-width="0.7"/>
<line x1="187.8" y1="361.7" x2="187.8" y2="364.9" stroke="#cc6456" stroke-width="0.7"/>
<line x1="261.4" y1="409.6" x2="261.4" y2="412.8" stroke="#cc6456" stroke-width="0.7"/>
<path d="M152.6 300.2 L154.4 300.2 L154.4 300.6 L156.3 300.6 L156.3 301.1 L158.2 301.1 L158.2 301.6 L160.0 301.6 L160.0 302.0 L162.5 302.0 L162.5 303.5 L165.0 303.5 L165.0 305.0 L167.1 305.0 L167.1 306.9 L169.2 306.9 L169.2 308.8 L171.0 308.8 L171.0 310.8 L172.8 310.8 L172.8 312.8 L174.0 312.8 L174.0 314.4 L175.2 314.4 L175.2 316.1 L176.3 316.1 L176.3 317.8 L177.5 317.8 L177.5 319.4 L179.9 319.4 L179.9 320.9 L182.3 320.9 L182.3 322.3 L183.0 322.3 L183.0 324.2 L183.8 324.2 L183.8 326.1 L184.5 326.1 L184.5 327.9 L185.3 327.9 L185.3 329.8 L186.0 329.8 L186.0 331.7 L186.9 331.7 L186.9 333.6 L187.9 333.6 L187.9 335.4 L188.9 335.4 L188.9 337.3 L189.8 337.3 L189.8 339.2 L192.0 339.2 L192.0 340.5 L194.2 340.5 L194.2 341.7 L196.4 341.7 L196.4 343.0 L198.3 343.0 L198.3 345.4 L200.2 345.4 L200.2 347.7 L202.1 347.7 L202.1 349.6 L204.0 349.6 L204.0 351.5 L205.8 351.5 L205.8 352.7 L207.7 352.7 L207.7 353.8 L209.5 353.8 L209.5 355.0 L211.3 355.0 L211.3 356.2 L213.2 356.2 L213.2 357.3 L215.0 357.3 L215.0 358.5 L217.0 358.5 L217.0 359.1 L218.9 359.1 L218.9 359.8 L220.9 359.8 L220.9 360.4 L222.9 360.4 L222.9 361.1 L224.9 361.1 L224.9 361.7 L226.8 361.7 L226.8 362.4 L228.8 362.4 L228.8 363.0 L230.6 363.0 L230.6 363.2 L232.5 363.2 L232.5 363.5 L234.3 363.5 L234.3 363.7 L236.2 363.7 L236.2 364.0 L238.0 364.0 L238.0 364.2 L240.0 364.2 L240.0 364.5 L242.0 364.5 L242.0 364.7 L244.0 364.7 L244.0 365.0 L246.0 365.0 L246.0 365.2 L248.0 365.2 L248.0 365.5 L250.0 365.5 L250.0 365.7 L252.0 365.7 L252.0 366.0 L254.0 366.0 L254.0 366.2 L256.0 366.2 L256.0 366.5 L258.0 366.5 L258.0 366.8 L260.0 366.8 L260.0 367.0 L261.8 367.0 L261.8 367.0 L263.6 367.0 L263.6 367.0 L265.5 367.0 L265.5 367.0 L267.3 367.0 L267.3 367.0 L269.1 367.0 L269.1 367.0 L270.9 367.0 L270.9 367.0 L272.7 367.0 L272.7 367.0 L274.6 367.0 L274.6 367.1 L276.4 367.1 L276.4 367.1 L278.2 367.1 L278.2 367.1 L280.0 367.1 L280.0 367.1 L281.8 367.1 L281.8 367.1 L283.7 367.1 L283.7 367.1 L285.5 367.1 L285.5 367.1 L287.3 367.1 L287.3 367.1 L289.1 367.1 L289.1 367.1 L290.9 367.1 L290.9 367.1 L292.8 367.1 L292.8 367.1 L294.6 367.1 L294.6 367.1 L296.4 367.1 L296.4 367.1 L298.2 367.1 L298.2 367.1 L300.0 367.1 L300.0 367.1 L301.9 367.1 L301.9 367.1 L303.7 367.1 L303.7 367.2 L305.5 367.2 L305.5 367.2 L307.3 367.2 L307.3 367.2 L309.1 367.2 L309.1 367.2 L310.9 367.2 L310.9 367.2 L312.8 367.2 L312.8 367.2 L314.6 367.2 L314.6 367.2 L316.4 367.2 L316.4 367.2 L318.2 367.2 L318.2 367.2 L320.0 367.2 L320.0 367.2 L321.9 367.2 L321.9 367.2 L323.7 367.2 L323.7 367.2 L325.5 367.2 L325.5 367.2 L327.3 367.2 L327.3 367.2 L329.1 367.2 L329.1 367.2 L331.0 367.2 L331.0 367.3 L332.8 367.3 L332.8 367.3 L334.6 367.3 L334.6 367.3 L336.4 367.3 L336.4 367.3 L338.2 367.3 L338.2 367.3 L340.1 367.3 L340.1 367.3 L341.9 367.3 L341.9 367.3 L343.7 367.3 L343.7 367.3 L343.7 376.3 L352.0 376.3" fill="none" stroke="#62b890" stroke-width="1.0" stroke-linejoin="miter"/>
<line x1="330.0" y1="365.7" x2="330.0" y2="368.9" stroke="#62b890" stroke-width="0.7"/>
<line x1="285.3" y1="365.5" x2="285.3" y2="368.7" stroke="#62b890" stroke-width="0.7"/>
<line x1="301.2" y1="365.5" x2="301.2" y2="368.7" stroke="#62b890" stroke-width="0.7"/>
<line x1="197.2" y1="342.3" x2="197.2" y2="345.5" stroke="#62b890" stroke-width="0.7"/>
<line x1="249.2" y1="364.0" x2="249.2" y2="367.2" stroke="#62b890" stroke-width="0.7"/>
<line x1="247.2" y1="363.8" x2="247.2" y2="367.0" stroke="#62b890" stroke-width="0.7"/>
<line x1="258.2" y1="365.2" x2="258.2" y2="368.4" stroke="#62b890" stroke-width="0.7"/>
<line x1="250.1" y1="364.2" x2="250.1" y2="367.4" stroke="#62b890" stroke-width="0.7"/>
<line x1="225.7" y1="360.4" x2="225.7" y2="363.6" stroke="#62b890" stroke-width="0.7"/>
<line x1="310.2" y1="365.6" x2="310.2" y2="368.8" stroke="#62b890" stroke-width="0.7"/>
<line x1="337.2" y1="365.7" x2="337.2" y2="368.9" stroke="#62b890" stroke-width="0.7"/>
<line x1="325.6" y1="365.6" x2="325.6" y2="368.8" stroke="#62b890" stroke-width="0.7"/>
<line x1="237.2" y1="362.5" x2="237.2" y2="365.7" stroke="#62b890" stroke-width="0.7"/>
<line x1="325.7" y1="365.6" x2="325.7" y2="368.8" stroke="#62b890" stroke-width="0.7"/>
<line x1="232.0" y1="361.8" x2="232.0" y2="365.0" stroke="#62b890" stroke-width="0.7"/>
<line x1="315.1" y1="365.6" x2="315.1" y2="368.8" stroke="#62b890" stroke-width="0.7"/>
<line x1="295.0" y1="365.5" x2="295.0" y2="368.7" stroke="#62b890" stroke-width="0.7"/>
<line x1="342.5" y1="365.7" x2="342.5" y2="368.9" stroke="#62b890" stroke-width="0.7"/>
<line x1="309.3" y1="365.6" x2="309.3" y2="368.8" stroke="#62b890" stroke-width="0.7"/>
<line x1="317.9" y1="365.6" x2="317.9" y2="368.8" stroke="#62b890" stroke-width="0.7"/>
<line x1="263.4" y1="365.4" x2="263.4" y2="368.6" stroke="#62b890" stroke-width="0.7"/>
<line x1="329.4" y1="365.6" x2="329.4" y2="368.8" stroke="#62b890" stroke-width="0.7"/>
<line x1="343.9" y1="374.7" x2="343.9" y2="377.9" stroke="#62b890" stroke-width="0.7"/>
<line x1="280.7" y1="365.5" x2="280.7" y2="368.7" stroke="#62b890" stroke-width="0.7"/>
<line x1="326.1" y1="365.6" x2="326.1" y2="368.8" stroke="#62b890" stroke-width="0.7"/>
<line x1="294.2" y1="365.5" x2="294.2" y2="368.7" stroke="#62b890" stroke-width="0.7"/>
<line x1="299.7" y1="365.5" x2="299.7" y2="368.7" stroke="#62b890" stroke-width="0.7"/>
<line x1="266.0" y1="365.4" x2="266.0" y2="368.6" stroke="#62b890" stroke-width="0.7"/>
<line x1="315.3" y1="365.6" x2="315.3" y2="368.8" stroke="#62b890" stroke-width="0.7"/>
<line x1="244.1" y1="363.4" x2="244.1" y2="366.6" stroke="#62b890" stroke-width="0.7"/>
<line x1="349.2" y1="374.7" x2="349.2" y2="377.9" stroke="#62b890" stroke-width="0.7"/>
<line x1="252.0" y1="364.4" x2="252.0" y2="367.6" stroke="#62b890" stroke-width="0.7"/>
<line x1="189.8" y1="337.6" x2="189.8" y2="340.8" stroke="#62b890" stroke-width="0.7"/>
<line x1="286.5" y1="365.5" x2="286.5" y2="368.7" stroke="#62b890" stroke-width="0.7"/>
<path d="M152.6 300.2 L154.4 300.2 L154.4 300.5 L156.3 300.5 L156.3 300.9 L158.2 300.9 L158.2 301.2 L160.0 301.2 L160.0 301.5 L161.8 301.5 L161.8 302.7 L163.6 302.7 L163.6 303.8 L165.4 303.8 L165.4 305.0 L167.3 305.0 L167.3 306.4 L169.2 306.4 L169.2 307.8 L171.1 307.8 L171.1 309.1 L173.0 309.1 L173.0 310.5 L175.7 310.5 L175.7 312.8 L177.1 312.8 L177.1 314.5 L178.5 314.5 L178.5 316.3 L179.9 316.3 L179.9 318.0 L181.4 318.0 L181.4 319.7 L182.8 319.7 L182.8 321.5 L184.2 321.5 L184.2 323.2 L185.3 323.2 L185.3 324.8 L186.3 324.8 L186.3 326.4 L187.4 326.4 L187.4 328.0 L188.5 328.0 L188.5 329.7 L189.6 329.7 L189.6 331.3 L190.6 331.3 L190.6 332.9 L191.7 332.9 L191.7 334.5 L193.2 334.5 L193.2 336.2 L194.7 336.2 L194.7 337.9 L196.2 337.9 L196.2 339.6 L197.7 339.6 L197.7 341.3 L199.2 341.3 L199.2 343.0 L201.4 343.0 L201.4 344.8 L203.6 344.8 L203.6 346.7 L205.8 346.7 L205.8 348.5 L207.2 348.5 L207.2 350.1 L208.7 350.1 L208.7 351.8 L210.1 351.8 L210.1 353.4 L211.5 353.4 L211.5 355.0 L213.4 355.0 L213.4 356.7 L215.3 356.7 L215.3 358.5 L217.2 358.5 L217.2 360.2 L219.2 360.2 L219.2 361.9 L221.1 361.9 L221.1 363.7 L223.0 363.7 L223.0 365.4 L224.9 365.4 L224.9 366.3 L226.9 366.3 L226.9 367.3 L228.8 367.3 L228.8 368.2 L230.7 368.2 L230.7 369.1 L232.7 369.1 L232.7 370.1 L234.6 370.1 L234.6 371.0 L236.6 371.0 L236.6 371.5 L238.5 371.5 L238.5 372.0 L240.5 372.0 L240.5 372.5 L242.5 372.5 L242.5 373.1 L244.5 373.1 L244.5 373.6 L246.4 373.6 L246.4 374.1 L248.4 374.1 L248.4 374.6 L249.2 374.6 L249.2 376.5 L249.9 376.5 L249.9 378.5 L250.7 378.5 L250.7 380.4 L252.6 380.4 L252.6 381.0 L254.4 381.0 L254.4 381.6 L256.3 381.6 L256.3 382.3 L258.1 382.3 L258.1 382.9 L260.0 382.9 L260.0 383.5 L261.9 383.5 L261.9 383.6 L263.8 383.6 L263.8 383.8 L265.8 383.8 L265.8 383.9 L267.7 383.9 L267.7 384.1 L269.6 384.1 L269.6 384.2 L271.5 384.2 L271.5 384.3 L273.5 384.3 L273.5 384.5 L275.4 384.5 L275.4 384.6 L277.3 384.6 L277.3 384.7 L279.2 384.7 L279.2 384.9 L281.2 384.9 L281.2 385.0 L283.1 385.0 L283.1 385.2 L285.0 385.2 L285.0 385.3 L286.8 385.3 L286.8 385.7 L288.6 385.7 L288.6 386.0 L290.4 386.0 L290.4 386.4 L292.3 386.4 L292.3 386.7 L294.1 386.7 L294.1 387.1 L295.9 387.1 L295.9 387.4 L297.7 387.4 L297.7 387.8 L299.5 387.8 L299.5 388.5 L301.3 388.5 L301.3 389.3 L303.1 389.3 L303.1 390.0 L304.9 390.0 L304.9 390.7 L306.7 390.7 L306.7 391.4 L308.5 391.4 L308.5 392.2 L310.3 392.2 L310.3 392.9 L312.4 392.9 L312.4 393.2 L314.5 393.2 L314.5 393.6 L316.6 393.6 L316.6 393.9 L318.6 393.9 L318.6 394.2 L320.7 394.2 L320.7 394.6 L322.8 394.6 L322.8 394.9 L324.6 394.9 L324.6 394.9 L326.4 394.9 L326.4 395.0 L328.3 395.0 L328.3 395.0 L330.1 395.0 L330.1 395.0 L331.9 395.0 L331.9 395.1 L333.8 395.1 L333.8 395.1 L335.6 395.1 L335.6 395.1 L337.4 395.1 L337.4 395.1 L339.2 395.1 L339.2 395.2 L341.1 395.2 L341.1 395.2 L342.9 395.2 L342.9 395.2 L344.7 395.2 L344.7 395.3 L346.5 395.3 L346.5 395.3 L348.4 395.3 L348.4 395.3 L350.2 395.3 L350.2 395.4 L352.0 395.4 L352.0 395.4" fill="none" stroke="#ece24a" stroke-width="1.2" stroke-linejoin="miter"/>
<line x1="336.5" y1="393.5" x2="336.5" y2="396.7" stroke="#ece24a" stroke-width="0.7"/>
<line x1="334.7" y1="393.5" x2="334.7" y2="396.7" stroke="#ece24a" stroke-width="0.7"/>
<line x1="274.7" y1="383.0" x2="274.7" y2="386.2" stroke="#ece24a" stroke-width="0.7"/>
<line x1="281.7" y1="383.5" x2="281.7" y2="386.7" stroke="#ece24a" stroke-width="0.7"/>
<line x1="250.1" y1="377.2" x2="250.1" y2="380.4" stroke="#ece24a" stroke-width="0.7"/>
<line x1="253.1" y1="379.6" x2="253.1" y2="382.8" stroke="#ece24a" stroke-width="0.7"/>
<line x1="302.3" y1="388.1" x2="302.3" y2="391.3" stroke="#ece24a" stroke-width="0.7"/>
<line x1="312.8" y1="391.7" x2="312.8" y2="394.9" stroke="#ece24a" stroke-width="0.7"/>
<line x1="332.9" y1="393.5" x2="332.9" y2="396.7" stroke="#ece24a" stroke-width="0.7"/>
<line x1="341.8" y1="393.6" x2="341.8" y2="396.8" stroke="#ece24a" stroke-width="0.7"/>
<line x1="230.3" y1="367.3" x2="230.3" y2="370.5" stroke="#ece24a" stroke-width="0.7"/>
<line x1="237.3" y1="370.1" x2="237.3" y2="373.3" stroke="#ece24a" stroke-width="0.7"/>
<line x1="310.3" y1="391.3" x2="310.3" y2="394.5" stroke="#ece24a" stroke-width="0.7"/>
<line x1="269.1" y1="382.6" x2="269.1" y2="385.8" stroke="#ece24a" stroke-width="0.7"/>
<line x1="171.0" y1="307.4" x2="171.0" y2="310.6" stroke="#ece24a" stroke-width="0.7"/>
<line x1="319.7" y1="392.8" x2="319.7" y2="396.0" stroke="#ece24a" stroke-width="0.7"/>
<line x1="350.0" y1="393.8" x2="350.0" y2="397.0" stroke="#ece24a" stroke-width="0.7"/>
<line x1="294.9" y1="385.6" x2="294.9" y2="388.8" stroke="#ece24a" stroke-width="0.7"/>
<line x1="324.1" y1="393.3" x2="324.1" y2="396.5" stroke="#ece24a" stroke-width="0.7"/>
<line x1="246.5" y1="372.5" x2="246.5" y2="375.7" stroke="#ece24a" stroke-width="0.7"/>
<line x1="296.8" y1="386.0" x2="296.8" y2="389.2" stroke="#ece24a" stroke-width="0.7"/>
<line x1="298.9" y1="386.7" x2="298.9" y2="389.9" stroke="#ece24a" stroke-width="0.7"/>
<line x1="261.7" y1="382.0" x2="261.7" y2="385.2" stroke="#ece24a" stroke-width="0.7"/>
<line x1="334.0" y1="393.5" x2="334.0" y2="396.7" stroke="#ece24a" stroke-width="0.7"/>
<line x1="261.9" y1="382.0" x2="261.9" y2="385.2" stroke="#ece24a" stroke-width="0.7"/>
<line x1="346.5" y1="393.7" x2="346.5" y2="396.9" stroke="#ece24a" stroke-width="0.7"/>
<path d="M152.6 300.2 L154.4 300.2 L154.4 300.5 L156.3 300.5 L156.3 300.9 L158.2 300.9 L158.2 301.2 L160.0 301.2 L160.0 301.5 L161.8 301.5 L161.8 302.2 L163.6 302.2 L163.6 302.8 L165.4 302.8 L165.4 303.5 L167.3 303.5 L167.3 304.8 L169.2 304.8 L169.2 306.1 L171.1 306.1 L171.1 307.5 L173.0 307.5 L173.0 308.8 L174.8 308.8 L174.8 309.8 L176.7 309.8 L176.7 310.9 L178.5 310.9 L178.5 311.9 L180.0 311.9 L180.0 313.5 L181.5 313.5 L181.5 315.1 L183.0 315.1 L183.0 316.7 L184.4 316.7 L184.4 318.4 L185.9 318.4 L185.9 320.0 L187.4 320.0 L187.4 321.6 L188.9 321.6 L188.9 323.2 L190.5 323.2 L190.5 324.9 L192.0 324.9 L192.0 326.7 L193.6 326.7 L193.6 328.4 L195.2 328.4 L195.2 330.1 L196.7 330.1 L196.7 331.9 L198.3 331.9 L198.3 333.6 L200.2 333.6 L200.2 335.3 L202.1 335.3 L202.1 337.0 L203.9 337.0 L203.9 338.6 L205.8 338.6 L205.8 340.3 L207.7 340.3 L207.7 342.0 L209.9 342.0 L209.9 343.7 L212.1 343.7 L212.1 345.3 L214.3 345.3 L214.3 347.0 L216.5 347.0 L216.5 348.2 L218.7 348.2 L218.7 349.5 L220.8 349.5 L220.8 350.8 L223.0 350.8 L223.0 352.0 L224.9 352.0 L224.9 353.1 L226.8 353.1 L226.8 354.2 L228.6 354.2 L228.6 355.3 L230.5 355.3 L230.5 356.4 L232.4 356.4 L232.4 357.5 L234.2 357.5 L234.2 358.6 L236.1 358.6 L236.1 359.7 L238.0 359.7 L238.0 360.8 L239.9 360.8 L239.9 362.1 L241.9 362.1 L241.9 363.5 L243.8 363.5 L243.8 364.8 L245.7 364.8 L245.7 366.1 L247.7 366.1 L247.7 367.5 L249.6 367.5 L249.6 368.8 L251.7 368.8 L251.7 370.3 L253.8 370.3 L253.8 371.9 L255.8 371.9 L255.8 373.4 L257.9 373.4 L257.9 375.0 L260.0 375.0 L260.0 376.5 L261.8 376.5 L261.8 376.9 L263.6 376.9 L263.6 377.2 L265.4 377.2 L265.4 377.6 L267.2 377.6 L267.2 377.9 L269.0 377.9 L269.0 378.3 L270.8 378.3 L270.8 378.6 L272.6 378.6 L272.6 379.0 L274.7 379.0 L274.7 379.8 L276.8 379.8 L276.8 380.7 L278.9 380.7 L278.9 381.5 L280.9 381.5 L280.9 382.3 L283.0 382.3 L283.0 383.2 L285.1 383.2 L285.1 384.0 L287.2 384.0 L287.2 384.4 L289.3 384.4 L289.3 384.9 L291.4 384.9 L291.4 385.3 L293.5 385.3 L293.5 385.7 L295.6 385.7 L295.6 386.2 L297.7 386.2 L297.7 386.6 L299.5 386.6 L299.5 387.1 L301.3 387.1 L301.3 387.7 L303.1 387.7 L303.1 388.2 L304.9 388.2 L304.9 388.8 L306.7 388.8 L306.7 389.3 L308.5 389.3 L308.5 389.9 L310.3 389.9 L310.3 390.4 L312.4 390.4 L312.4 391.0 L314.5 391.0 L314.5 391.6 L316.6 391.6 L316.6 392.2 L318.6 392.2 L318.6 392.9 L320.7 392.9 L320.7 393.5 L322.8 393.5 L322.8 394.1 L324.9 394.1 L324.9 394.5 L327.0 394.5 L327.0 394.9 L329.1 394.9 L329.1 395.4 L331.2 395.4 L331.2 395.8 L333.3 395.8 L333.3 396.2 L335.4 396.2 L335.4 396.6 L337.3 396.6 L337.3 397.2 L339.1 397.2 L339.1 397.9 L341.0 397.9 L341.0 398.5 L342.9 398.5 L342.9 399.1 L345.4 399.1 L345.4 401.7 L347.9 401.7 L347.9 402.4 L350.5 402.4 L350.5 403.0" fill="none" stroke="#ef7e68" stroke-width="2.2" stroke-linejoin="miter"/>
<line x1="248.2" y1="365.5" x2="248.2" y2="370.1" stroke="#ef7e68" stroke-width="0.7"/>
<line x1="269.2" y1="376.0" x2="269.2" y2="380.6" stroke="#ef7e68" stroke-width="0.7"/>
<line x1="303.3" y1="386.0" x2="303.3" y2="390.6" stroke="#ef7e68" stroke-width="0.7"/>
<line x1="290.7" y1="382.9" x2="290.7" y2="387.5" stroke="#ef7e68" stroke-width="0.7"/>
<line x1="333.2" y1="393.9" x2="333.2" y2="398.5" stroke="#ef7e68" stroke-width="0.7"/>
<line x1="186.2" y1="318.0" x2="186.2" y2="322.6" stroke="#ef7e68" stroke-width="0.7"/>
<line x1="283.7" y1="381.1" x2="283.7" y2="385.7" stroke="#ef7e68" stroke-width="0.7"/>
<line x1="317.0" y1="390.1" x2="317.0" y2="394.7" stroke="#ef7e68" stroke-width="0.7"/>
<line x1="236.5" y1="357.6" x2="236.5" y2="362.2" stroke="#ef7e68" stroke-width="0.7"/>
<line x1="294.0" y1="383.5" x2="294.0" y2="388.1" stroke="#ef7e68" stroke-width="0.7"/>
<line x1="319.0" y1="390.7" x2="319.0" y2="395.3" stroke="#ef7e68" stroke-width="0.7"/>
<line x1="322.2" y1="391.6" x2="322.2" y2="396.2" stroke="#ef7e68" stroke-width="0.7"/>
<line x1="285.6" y1="381.8" x2="285.6" y2="386.4" stroke="#ef7e68" stroke-width="0.7"/>
<line x1="275.7" y1="377.9" x2="275.7" y2="382.5" stroke="#ef7e68" stroke-width="0.7"/>
<line x1="257.2" y1="372.1" x2="257.2" y2="376.7" stroke="#ef7e68" stroke-width="0.7"/>
<line x1="301.8" y1="385.5" x2="301.8" y2="390.1" stroke="#ef7e68" stroke-width="0.7"/>
<line x1="223.6" y1="350.0" x2="223.6" y2="354.6" stroke="#ef7e68" stroke-width="0.7"/>
<line x1="294.6" y1="383.7" x2="294.6" y2="388.3" stroke="#ef7e68" stroke-width="0.7"/>
<line x1="345.3" y1="399.3" x2="345.3" y2="403.9" stroke="#ef7e68" stroke-width="0.7"/>
<line x1="305.1" y1="386.5" x2="305.1" y2="391.1" stroke="#ef7e68" stroke-width="0.7"/>
<line x1="246.2" y1="364.2" x2="246.2" y2="368.8" stroke="#ef7e68" stroke-width="0.7"/>
<line x1="292.9" y1="383.3" x2="292.9" y2="387.9" stroke="#ef7e68" stroke-width="0.7"/>
<line x1="230.4" y1="354.0" x2="230.4" y2="358.6" stroke="#ef7e68" stroke-width="0.7"/>
<line x1="262.5" y1="374.7" x2="262.5" y2="379.3" stroke="#ef7e68" stroke-width="0.7"/>
<line x1="268.2" y1="375.8" x2="268.2" y2="380.4" stroke="#ef7e68" stroke-width="0.7"/>
<line x1="338.5" y1="395.3" x2="338.5" y2="399.9" stroke="#ef7e68" stroke-width="0.7"/>
<line x1="311.9" y1="388.6" x2="311.9" y2="393.2" stroke="#ef7e68" stroke-width="0.7"/>
<line x1="347.6" y1="400.0" x2="347.6" y2="404.6" stroke="#ef7e68" stroke-width="0.7"/>
<line x1="265.6" y1="375.3" x2="265.6" y2="379.9" stroke="#ef7e68" stroke-width="0.7"/>
<line x1="323.7" y1="392.0" x2="323.7" y2="396.6" stroke="#ef7e68" stroke-width="0.7"/>
<line x1="181.0" y1="312.3" x2="181.0" y2="316.9" stroke="#ef7e68" stroke-width="0.7"/>
<line x1="222.3" y1="349.3" x2="222.3" y2="353.9" stroke="#ef7e68" stroke-width="0.7"/>
<line x1="341.2" y1="396.2" x2="341.2" y2="400.8" stroke="#ef7e68" stroke-width="0.7"/>
<line x1="194.8" y1="327.4" x2="194.8" y2="332.0" stroke="#ef7e68" stroke-width="0.7"/>
<line x1="349.9" y1="400.5" x2="349.9" y2="405.1" stroke="#ef7e68" stroke-width="0.7"/>
<line x1="298.4" y1="384.5" x2="298.4" y2="389.1" stroke="#ef7e68" stroke-width="0.7"/>
<line x1="336.6" y1="394.7" x2="336.6" y2="399.3" stroke="#ef7e68" stroke-width="0.7"/>
<line x1="251.4" y1="367.8" x2="251.4" y2="372.4" stroke="#ef7e68" stroke-width="0.7"/>
<line x1="342.7" y1="396.7" x2="342.7" y2="401.3" stroke="#ef7e68" stroke-width="0.7"/>
<line x1="235.3" y1="356.9" x2="235.3" y2="361.5" stroke="#ef7e68" stroke-width="0.7"/>
<line x1="242.6" y1="361.7" x2="242.6" y2="366.3" stroke="#ef7e68" stroke-width="0.7"/>
<line x1="312.2" y1="388.6" x2="312.2" y2="393.2" stroke="#ef7e68" stroke-width="0.7"/>
<line x1="287.9" y1="382.3" x2="287.9" y2="386.9" stroke="#ef7e68" stroke-width="0.7"/>
<line x1="275.2" y1="377.7" x2="275.2" y2="382.3" stroke="#ef7e68" stroke-width="0.7"/>
<line x1="286.9" y1="382.1" x2="286.9" y2="386.7" stroke="#ef7e68" stroke-width="0.7"/>
<line x1="281.2" y1="380.2" x2="281.2" y2="384.8" stroke="#ef7e68" stroke-width="0.7"/>
<line x1="255.4" y1="370.8" x2="255.4" y2="375.4" stroke="#ef7e68" stroke-width="0.7"/>
<line x1="280.5" y1="379.9" x2="280.5" y2="384.5" stroke="#ef7e68" stroke-width="0.7"/>
<line x1="216.3" y1="345.8" x2="216.3" y2="350.4" stroke="#ef7e68" stroke-width="0.7"/>
<line x1="304.8" y1="386.4" x2="304.8" y2="391.0" stroke="#ef7e68" stroke-width="0.7"/>
<line x1="319.4" y1="390.8" x2="319.4" y2="395.4" stroke="#ef7e68" stroke-width="0.7"/>
<line x1="298.4" y1="384.5" x2="298.4" y2="389.1" stroke="#ef7e68" stroke-width="0.7"/>
<line x1="256.2" y1="371.4" x2="256.2" y2="376.0" stroke="#ef7e68" stroke-width="0.7"/>
<line x1="175.6" y1="308.0" x2="175.6" y2="312.6" stroke="#ef7e68" stroke-width="0.7"/>
<line x1="323.6" y1="392.0" x2="323.6" y2="396.6" stroke="#ef7e68" stroke-width="0.7"/>
<line x1="209.7" y1="341.2" x2="209.7" y2="345.8" stroke="#ef7e68" stroke-width="0.7"/>
<line x1="244.4" y1="362.9" x2="244.4" y2="367.5" stroke="#ef7e68" stroke-width="0.7"/>
<line x1="331.1" y1="393.4" x2="331.1" y2="398.0" stroke="#ef7e68" stroke-width="0.7"/>
<line x1="323.5" y1="391.9" x2="323.5" y2="396.5" stroke="#ef7e68" stroke-width="0.7"/>
<line x1="212.5" y1="343.4" x2="212.5" y2="348.0" stroke="#ef7e68" stroke-width="0.7"/>
<line x1="310.6" y1="388.2" x2="310.6" y2="392.8" stroke="#ef7e68" stroke-width="0.7"/>
<line x1="277.8" y1="378.8" x2="277.8" y2="383.4" stroke="#ef7e68" stroke-width="0.7"/>
<line x1="199.8" y1="332.7" x2="199.8" y2="337.3" stroke="#ef7e68" stroke-width="0.7"/>
<line x1="245.4" y1="363.6" x2="245.4" y2="368.2" stroke="#ef7e68" stroke-width="0.7"/>
<line x1="241.2" y1="360.7" x2="241.2" y2="365.3" stroke="#ef7e68" stroke-width="0.7"/>
<line x1="293.7" y1="383.5" x2="293.7" y2="388.1" stroke="#ef7e68" stroke-width="0.7"/>
<line x1="296.1" y1="384.0" x2="296.1" y2="388.6" stroke="#ef7e68" stroke-width="0.7"/>
<line x1="248.8" y1="365.9" x2="248.8" y2="370.5" stroke="#ef7e68" stroke-width="0.7"/>
<line x1="328.3" y1="392.9" x2="328.3" y2="397.5" stroke="#ef7e68" stroke-width="0.7"/>
<line x1="294.5" y1="383.6" x2="294.5" y2="388.2" stroke="#ef7e68" stroke-width="0.7"/>
<line x1="190.4" y1="322.5" x2="190.4" y2="327.1" stroke="#ef7e68" stroke-width="0.7"/>
<line x1="272.9" y1="376.8" x2="272.9" y2="381.4" stroke="#ef7e68" stroke-width="0.7"/>
<line x1="233.7" y1="356.0" x2="233.7" y2="360.6" stroke="#ef7e68" stroke-width="0.7"/>
<line x1="246.9" y1="364.6" x2="246.9" y2="369.2" stroke="#ef7e68" stroke-width="0.7"/>
<line x1="320.0" y1="391.0" x2="320.0" y2="395.6" stroke="#ef7e68" stroke-width="0.7"/>
<line x1="167.1" y1="302.4" x2="167.1" y2="307.0" stroke="#ef7e68" stroke-width="0.7"/>
<line x1="319.5" y1="390.8" x2="319.5" y2="395.4" stroke="#ef7e68" stroke-width="0.7"/>
<line x1="238.1" y1="358.5" x2="238.1" y2="363.1" stroke="#ef7e68" stroke-width="0.7"/>
<line x1="297.3" y1="384.2" x2="297.3" y2="388.8" stroke="#ef7e68" stroke-width="0.7"/>
<line x1="187.6" y1="319.5" x2="187.6" y2="324.1" stroke="#ef7e68" stroke-width="0.7"/>
<path d="M152.6 300.2 L154.5 300.2 L154.5 300.3 L156.3 300.3 L156.3 300.5 L158.2 300.5 L158.2 300.6 L160.1 300.6 L160.1 300.8 L161.9 300.8 L161.9 300.9 L163.8 300.9 L163.8 301.1 L165.7 301.1 L165.7 301.2 L167.5 301.2 L167.5 301.4 L169.4 301.4 L169.4 301.6 L171.3 301.6 L171.3 301.7 L173.1 301.7 L173.1 301.9 L175.0 301.9 L175.0 302.0 L176.9 302.0 L176.9 303.2 L178.8 303.2 L178.8 304.4 L180.8 304.4 L180.8 305.6 L182.7 305.6 L182.7 306.8 L184.6 306.8 L184.6 308.0 L186.3 308.0 L186.3 309.6 L188.1 309.6 L188.1 311.2 L189.8 311.2 L189.8 312.8 L190.8 312.8 L190.8 314.4 L191.7 314.4 L191.7 316.1 L192.7 316.1 L192.7 317.8 L193.6 317.8 L193.6 319.4 L195.2 319.4 L195.2 321.0 L196.7 321.0 L196.7 322.6 L198.3 322.6 L198.3 324.2 L200.7 324.2 L200.7 326.5 L203.0 326.5 L203.0 328.9 L205.3 328.9 L205.3 330.3 L207.7 330.3 L207.7 331.7 L209.6 331.7 L209.6 333.6 L211.5 333.6 L211.5 335.5 L214.3 335.5 L214.3 337.4 L217.3 337.4 L217.3 337.7 L219.2 337.7 L219.2 337.9 L221.1 337.9 L221.1 338.1 L223.1 338.1 L223.1 338.2 L225.0 338.2 L225.0 338.4 L226.9 338.4 L226.9 338.6 L228.8 338.6 L228.8 338.8 L230.7 338.8 L230.7 339.6 L232.7 339.6 L232.7 340.3 L234.6 340.3 L234.6 341.1 L236.5 341.1 L236.5 341.9 L238.5 341.9 L238.5 342.6 L240.4 342.6 L240.4 343.4 L242.2 343.4 L242.2 344.3 L244.1 344.3 L244.1 345.2 L245.9 345.2 L245.9 346.2 L247.8 346.2 L247.8 347.1 L249.6 347.1 L249.6 348.0 L252.0 348.0 L252.0 351.0 L253.8 351.0 L253.8 351.1 L255.7 351.1 L255.7 351.1 L257.5 351.1 L257.5 351.2 L259.3 351.2 L259.3 351.2 L261.2 351.2 L261.2 351.3 L263.0 351.3 L263.0 351.3 L264.8 351.3 L264.8 351.4 L266.7 351.4 L266.7 351.4 L268.5 351.4 L268.5 351.5 L270.3 351.5 L270.3 351.6 L272.2 351.6 L272.2 351.6 L274.0 351.6 L274.0 351.7 L275.8 351.7 L275.8 351.7 L277.7 351.7 L277.7 351.8 L279.5 351.8 L279.5 351.8 L281.3 351.8 L281.3 351.9 L283.2 351.9 L283.2 351.9 L285.0 351.9 L285.0 352.0 L286.8 352.0 L286.8 352.1 L288.7 352.1 L288.7 352.1 L290.5 352.1 L290.5 352.2 L292.3 352.2 L292.3 352.2 L294.2 352.2 L294.2 352.3 L296.0 352.3 L296.0 352.3 L297.8 352.3 L297.8 352.4 L299.7 352.4 L299.7 352.4 L301.5 352.4 L301.5 352.5 L303.3 352.5 L303.3 352.6 L305.2 352.6 L305.2 352.6 L307.0 352.6 L307.0 352.7 L308.8 352.7 L308.8 352.7 L310.7 352.7 L310.7 352.8 L312.5 352.8 L312.5 352.8 L314.3 352.8 L314.3 352.9 L316.2 352.9 L316.2 352.9 L318.0 352.9 L318.0 353.0 L318.0 360.2 L352.0 360.2" fill="none" stroke="#9e2f60" stroke-width="1.0" stroke-linejoin="miter"/>
<line x1="275.7" y1="350.1" x2="275.7" y2="353.3" stroke="#9e2f60" stroke-width="0.7"/>
<line x1="261.7" y1="349.7" x2="261.7" y2="352.9" stroke="#9e2f60" stroke-width="0.7"/>
<line x1="244.6" y1="343.9" x2="244.6" y2="347.1" stroke="#9e2f60" stroke-width="0.7"/>
<line x1="256.6" y1="349.5" x2="256.6" y2="352.7" stroke="#9e2f60" stroke-width="0.7"/>
<line x1="264.7" y1="349.8" x2="264.7" y2="353.0" stroke="#9e2f60" stroke-width="0.7"/>
<line x1="257.0" y1="349.6" x2="257.0" y2="352.8" stroke="#9e2f60" stroke-width="0.7"/>
<line x1="254.6" y1="349.5" x2="254.6" y2="352.7" stroke="#9e2f60" stroke-width="0.7"/>
<line x1="272.8" y1="350.0" x2="272.8" y2="353.2" stroke="#9e2f60" stroke-width="0.7"/>
<line x1="293.5" y1="350.7" x2="293.5" y2="353.9" stroke="#9e2f60" stroke-width="0.7"/>
<line x1="340.7" y1="358.6" x2="340.7" y2="361.8" stroke="#9e2f60" stroke-width="0.7"/>
<line x1="288.4" y1="350.5" x2="288.4" y2="353.7" stroke="#9e2f60" stroke-width="0.7"/>
<line x1="324.5" y1="358.6" x2="324.5" y2="361.8" stroke="#9e2f60" stroke-width="0.7"/>
<line x1="336.0" y1="358.6" x2="336.0" y2="361.8" stroke="#9e2f60" stroke-width="0.7"/>
<line x1="244.7" y1="343.9" x2="244.7" y2="347.1" stroke="#9e2f60" stroke-width="0.7"/>
<line x1="341.3" y1="358.6" x2="341.3" y2="361.8" stroke="#9e2f60" stroke-width="0.7"/>
<line x1="235.5" y1="339.9" x2="235.5" y2="343.1" stroke="#9e2f60" stroke-width="0.7"/>
<line x1="266.6" y1="349.8" x2="266.6" y2="353.0" stroke="#9e2f60" stroke-width="0.7"/>
<line x1="338.1" y1="358.6" x2="338.1" y2="361.8" stroke="#9e2f60" stroke-width="0.7"/>
<line x1="171.6" y1="300.1" x2="171.6" y2="303.3" stroke="#9e2f60" stroke-width="0.7"/>
<line x1="234.8" y1="339.6" x2="234.8" y2="342.8" stroke="#9e2f60" stroke-width="0.7"/>
<line x1="317.4" y1="351.4" x2="317.4" y2="354.6" stroke="#9e2f60" stroke-width="0.7"/>
<line x1="308.4" y1="351.1" x2="308.4" y2="354.3" stroke="#9e2f60" stroke-width="0.7"/>
<line x1="228.8" y1="337.2" x2="228.8" y2="340.4" stroke="#9e2f60" stroke-width="0.7"/>
<line x1="233.8" y1="339.2" x2="233.8" y2="342.4" stroke="#9e2f60" stroke-width="0.7"/>
<line x1="256.4" y1="349.5" x2="256.4" y2="352.7" stroke="#9e2f60" stroke-width="0.7"/>
<line x1="173.9" y1="300.3" x2="173.9" y2="303.5" stroke="#9e2f60" stroke-width="0.7"/>
<line x1="304.8" y1="351.0" x2="304.8" y2="354.2" stroke="#9e2f60" stroke-width="0.7"/>
<line x1="177.8" y1="302.1" x2="177.8" y2="305.3" stroke="#9e2f60" stroke-width="0.7"/>
<line x1="249.1" y1="346.1" x2="249.1" y2="349.3" stroke="#9e2f60" stroke-width="0.7"/>
<line x1="277.0" y1="350.2" x2="277.0" y2="353.4" stroke="#9e2f60" stroke-width="0.7"/>
<line x1="313.4" y1="351.3" x2="313.4" y2="354.5" stroke="#9e2f60" stroke-width="0.7"/>
<line x1="257.6" y1="349.6" x2="257.6" y2="352.8" stroke="#9e2f60" stroke-width="0.7"/>
<line x1="168.9" y1="299.9" x2="168.9" y2="303.1" stroke="#9e2f60" stroke-width="0.7"/>
<line x1="262.9" y1="349.7" x2="262.9" y2="352.9" stroke="#9e2f60" stroke-width="0.7"/>
<line x1="206.2" y1="329.2" x2="206.2" y2="332.4" stroke="#9e2f60" stroke-width="0.7"/>
<line x1="343.0" y1="358.6" x2="343.0" y2="361.8" stroke="#9e2f60" stroke-width="0.7"/>
<line x1="230.4" y1="337.8" x2="230.4" y2="341.0" stroke="#9e2f60" stroke-width="0.7"/>
<line x1="333.6" y1="358.6" x2="333.6" y2="361.8" stroke="#9e2f60" stroke-width="0.7"/>
<line x1="239.6" y1="341.5" x2="239.6" y2="344.7" stroke="#9e2f60" stroke-width="0.7"/>
<line x1="337.9" y1="358.6" x2="337.9" y2="361.8" stroke="#9e2f60" stroke-width="0.7"/>
<path d="M152.6 300.2 L154.7 300.2 L154.7 300.3 L156.7 300.3 L156.7 300.3 L158.8 300.3 L158.8 300.4 L160.9 300.4 L160.9 300.5 L162.9 300.5 L162.9 300.5 L165.0 300.5 L165.0 300.6 L167.0 300.6 L167.0 301.1 L168.9 301.1 L168.9 301.5 L170.9 301.5 L170.9 301.9 L172.9 301.9 L172.9 302.4 L174.9 302.4 L174.9 302.9 L176.9 302.9 L176.9 303.3 L178.8 303.3 L178.8 303.8 L180.8 303.8 L180.8 304.2 L182.8 304.2 L182.8 305.6 L184.9 305.6 L184.9 307.1 L186.9 307.1 L186.9 308.6 L188.9 308.6 L188.9 310.0 L190.8 310.0 L190.8 311.1 L192.7 311.1 L192.7 312.3 L194.5 312.3 L194.5 313.4 L196.4 313.4 L196.4 314.6 L198.3 314.6 L198.3 315.7 L200.2 315.7 L200.2 317.2 L202.1 317.2 L202.1 318.7 L203.9 318.7 L203.9 320.2 L205.8 320.2 L205.8 321.7 L207.7 321.7 L207.7 323.2 L209.9 323.2 L209.9 324.8 L212.1 324.8 L212.1 326.3 L214.3 326.3 L214.3 327.9 L216.5 327.9 L216.5 329.5 L218.7 329.5 L218.7 331.0 L220.8 331.0 L220.8 332.6 L223.0 332.6 L223.0 334.2 L224.9 334.2 L224.9 335.2 L226.9 335.2 L226.9 336.1 L228.8 336.1 L228.8 337.1 L230.7 337.1 L230.7 338.1 L232.7 338.1 L232.7 339.0 L234.6 339.0 L234.6 340.0 L236.5 340.0 L236.5 340.6 L238.4 340.6 L238.4 341.1 L240.3 341.1 L240.3 341.7 L242.2 341.7 L242.2 342.3 L244.1 342.3 L244.1 342.8 L246.0 342.8 L246.0 343.4 L248.0 343.4 L248.0 343.7 L250.0 343.7 L250.0 344.0 L252.0 344.0 L252.0 344.3 L254.0 344.3 L254.0 344.6 L256.0 344.6 L256.0 344.9 L258.0 344.9 L258.0 345.2 L260.0 345.2 L260.0 345.5 L261.8 345.5 L261.8 346.3 L263.6 346.3 L263.6 347.2 L265.4 347.2 L265.4 348.0 L267.2 348.0 L267.2 348.9 L269.0 348.9 L269.0 349.7 L270.8 349.7 L270.8 350.6 L272.6 350.6 L272.6 351.4 L274.7 351.4 L274.7 353.2 L276.8 353.2 L276.8 354.9 L278.9 354.9 L278.9 356.7 L280.9 356.7 L280.9 358.5 L283.0 358.5 L283.0 360.2 L285.1 360.2 L285.1 362.0 L287.2 362.0 L287.2 363.2 L289.3 363.2 L289.3 364.3 L291.4 364.3 L291.4 365.5 L293.5 365.5 L293.5 366.7 L295.6 366.7 L295.6 367.8 L297.7 367.8 L297.7 369.0 L299.5 369.0 L299.5 369.7 L301.3 369.7 L301.3 370.4 L303.1 370.4 L303.1 371.1 L304.9 371.1 L304.9 371.9 L306.7 371.9 L306.7 372.6 L308.5 372.6 L308.5 373.3 L310.3 373.3 L310.3 374.0 L312.4 374.0 L312.4 375.1 L314.5 375.1 L314.5 376.1 L316.6 376.1 L316.6 377.1 L318.6 377.1 L318.6 378.2 L320.7 378.2 L320.7 379.2 L322.8 379.2 L322.8 380.3 L324.9 380.3 L324.9 381.4 L327.0 381.4 L327.0 382.4 L329.1 382.4 L329.1 383.5 L331.2 383.5 L331.2 384.5 L333.3 384.5 L333.3 385.6 L335.4 385.6 L335.4 386.6 L337.9 386.6 L337.9 387.2 L340.4 387.2 L340.4 387.8 L352.0 387.8" fill="none" stroke="#4a62bc" stroke-width="1.3" stroke-linejoin="miter"/>
<line x1="327.2" y1="380.9" x2="327.2" y2="384.1" stroke="#4a62bc" stroke-width="0.7"/>
<line x1="184.4" y1="305.2" x2="184.4" y2="308.4" stroke="#4a62bc" stroke-width="0.7"/>
<line x1="315.6" y1="375.1" x2="315.6" y2="378.3" stroke="#4a62bc" stroke-width="0.7"/>
<line x1="239.1" y1="339.7" x2="239.1" y2="342.9" stroke="#4a62bc" stroke-width="0.7"/>
<line x1="200.9" y1="316.2" x2="200.9" y2="319.4" stroke="#4a62bc" stroke-width="0.7"/>
<line x1="227.3" y1="334.7" x2="227.3" y2="337.9" stroke="#4a62bc" stroke-width="0.7"/>
<line x1="328.2" y1="381.4" x2="328.2" y2="384.6" stroke="#4a62bc" stroke-width="0.7"/>
<line x1="242.6" y1="340.8" x2="242.6" y2="344.0" stroke="#4a62bc" stroke-width="0.7"/>
<line x1="289.9" y1="363.1" x2="289.9" y2="366.3" stroke="#4a62bc" stroke-width="0.7"/>
<line x1="285.8" y1="360.8" x2="285.8" y2="364.0" stroke="#4a62bc" stroke-width="0.7"/>
<line x1="297.1" y1="367.0" x2="297.1" y2="370.2" stroke="#4a62bc" stroke-width="0.7"/>
<line x1="320.0" y1="377.3" x2="320.0" y2="380.5" stroke="#4a62bc" stroke-width="0.7"/>
<line x1="350.7" y1="386.2" x2="350.7" y2="389.4" stroke="#4a62bc" stroke-width="0.7"/>
<line x1="338.0" y1="385.6" x2="338.0" y2="388.8" stroke="#4a62bc" stroke-width="0.7"/>
<line x1="323.8" y1="379.2" x2="323.8" y2="382.4" stroke="#4a62bc" stroke-width="0.7"/>
<line x1="312.9" y1="373.7" x2="312.9" y2="376.9" stroke="#4a62bc" stroke-width="0.7"/>
<line x1="281.2" y1="357.1" x2="281.2" y2="360.3" stroke="#4a62bc" stroke-width="0.7"/>
<line x1="255.1" y1="343.2" x2="255.1" y2="346.4" stroke="#4a62bc" stroke-width="0.7"/>
<line x1="239.3" y1="339.8" x2="239.3" y2="343.0" stroke="#4a62bc" stroke-width="0.7"/>
<line x1="314.6" y1="374.6" x2="314.6" y2="377.8" stroke="#4a62bc" stroke-width="0.7"/>
<line x1="283.7" y1="359.2" x2="283.7" y2="362.4" stroke="#4a62bc" stroke-width="0.7"/>
<line x1="292.7" y1="364.6" x2="292.7" y2="367.8" stroke="#4a62bc" stroke-width="0.7"/>
<line x1="325.1" y1="379.8" x2="325.1" y2="383.0" stroke="#4a62bc" stroke-width="0.7"/>
<line x1="270.4" y1="348.8" x2="270.4" y2="352.0" stroke="#4a62bc" stroke-width="0.7"/>
<line x1="348.9" y1="386.2" x2="348.9" y2="389.4" stroke="#4a62bc" stroke-width="0.7"/>
<line x1="245.3" y1="341.6" x2="245.3" y2="344.8" stroke="#4a62bc" stroke-width="0.7"/>
<line x1="262.8" y1="345.2" x2="262.8" y2="348.4" stroke="#4a62bc" stroke-width="0.7"/>
<line x1="202.6" y1="317.5" x2="202.6" y2="320.7" stroke="#4a62bc" stroke-width="0.7"/>
<line x1="265.6" y1="346.5" x2="265.6" y2="349.7" stroke="#4a62bc" stroke-width="0.7"/>
<line x1="348.8" y1="386.2" x2="348.8" y2="389.4" stroke="#4a62bc" stroke-width="0.7"/>
<line x1="294.7" y1="365.8" x2="294.7" y2="369.0" stroke="#4a62bc" stroke-width="0.7"/>
<line x1="343.2" y1="386.2" x2="343.2" y2="389.4" stroke="#4a62bc" stroke-width="0.7"/>
<line x1="215.7" y1="327.3" x2="215.7" y2="330.5" stroke="#4a62bc" stroke-width="0.7"/>
<line x1="289.5" y1="362.8" x2="289.5" y2="366.0" stroke="#4a62bc" stroke-width="0.7"/>
<line x1="292.0" y1="364.2" x2="292.0" y2="367.4" stroke="#4a62bc" stroke-width="0.7"/>
<line x1="194.4" y1="311.7" x2="194.4" y2="314.9" stroke="#4a62bc" stroke-width="0.7"/>
<line x1="336.2" y1="385.2" x2="336.2" y2="388.4" stroke="#4a62bc" stroke-width="0.7"/>
<line x1="231.7" y1="336.9" x2="231.7" y2="340.1" stroke="#4a62bc" stroke-width="0.7"/>
<line x1="327.8" y1="381.2" x2="327.8" y2="384.4" stroke="#4a62bc" stroke-width="0.7"/>
<line x1="334.2" y1="384.4" x2="334.2" y2="387.6" stroke="#4a62bc" stroke-width="0.7"/>
<line x1="334.4" y1="384.5" x2="334.4" y2="387.7" stroke="#4a62bc" stroke-width="0.7"/>
<line x1="177.6" y1="301.9" x2="177.6" y2="305.1" stroke="#4a62bc" stroke-width="0.7"/>
<line x1="327.7" y1="381.1" x2="327.7" y2="384.3" stroke="#4a62bc" stroke-width="0.7"/>
<line x1="257.3" y1="343.5" x2="257.3" y2="346.7" stroke="#4a62bc" stroke-width="0.7"/>
<line x1="279.8" y1="355.9" x2="279.8" y2="359.1" stroke="#4a62bc" stroke-width="0.7"/>
<line x1="272.8" y1="350.0" x2="272.8" y2="353.2" stroke="#4a62bc" stroke-width="0.7"/>
<line x1="256.4" y1="343.4" x2="256.4" y2="346.6" stroke="#4a62bc" stroke-width="0.7"/>
<line x1="327.1" y1="380.8" x2="327.1" y2="384.0" stroke="#4a62bc" stroke-width="0.7"/>
<line x1="320.9" y1="377.8" x2="320.9" y2="381.0" stroke="#4a62bc" stroke-width="0.7"/>
<line x1="339.4" y1="386.0" x2="339.4" y2="389.2" stroke="#4a62bc" stroke-width="0.7"/>
<line x1="157.9" y1="378.0" x2="171.2" y2="378.0" stroke="#cdb0ca" stroke-width="0.8"/>
<line x1="164.5" y1="376.4" x2="164.5" y2="379.6" stroke="#cdb0ca" stroke-width="0.8"/>
<text x="173.2" y="380.5" font-family='"Liberation Sans", sans-serif' font-size="7.5" font-weight="bold" fill="#1a1a1a" text-anchor="start" textLength="14.4" lengthAdjust="spacingAndGlyphs">Grp1</text>
<line x1="157.9" y1="386.7" x2="171.2" y2="386.7" stroke="#9cdcd6" stroke-width="0.8"/>
<line x1="164.5" y1="385.1" x2="164.5" y2="388.3" stroke="#9cdcd6" stroke-width="0.8"/>
<text x="173.2" y="389.19" font-family='"Liberation Sans", sans-serif' font-size="7.5" font-weight="bold" fill="#1a1a1a" text-anchor="start" textLength="14.4" lengthAdjust="spacingAndGlyphs">Grp2</text>
<line x1="157.9" y1="395.4" x2="171.2" y2="395.4" stroke="#e4a498" stroke-width="0.8"/>
<line x1="164.5" y1="393.8" x2="164.5" y2="397.0" stroke="#e4a498" stroke-width="0.8"/>
<text x="173.2" y="397.88" font-family='"Liberation Sans", sans-serif' font-size="7.5" font-weight="bold" fill="#1a1a1a" text-anchor="start" textLength="14.4" lengthAdjust="spacingAndGlyphs">Grp3</text>
<line x1="157.9" y1="404.1" x2="171.2" y2="404.1" stroke="#a6d2b8" stroke-width="0.8"/>
<line x1="164.5" y1="402.5" x2="164.5" y2="405.7" stroke="#a6d2b8" stroke-width="0.8"/>
<text x="173.2" y="406.57" font-family='"Liberation Sans", sans-serif' font-size="7.5" font-weight="bold" fill="#1a1a1a" text-anchor="start" textLength="14.4" lengthAdjust="spacingAndGlyphs">Grp4</text>
<line x1="157.9" y1="412.8" x2="171.2" y2="412.8" stroke="#f0b4b0" stroke-width="0.8"/>
<line x1="164.5" y1="411.2" x2="164.5" y2="414.4" stroke="#f0b4b0" stroke-width="0.8"/>
<text x="173.2" y="415.26" font-family='"Liberation Sans", sans-serif' font-size="7.5" font-weight="bold" fill="#1a1a1a" text-anchor="start" textLength="14.4" lengthAdjust="spacingAndGlyphs">Grp5</text>
<line x1="157.9" y1="421.4" x2="171.2" y2="421.4" stroke="#7080a8" stroke-width="0.8"/>
<line x1="164.5" y1="419.8" x2="164.5" y2="423.1" stroke="#7080a8" stroke-width="0.8"/>
<text x="173.2" y="423.95" font-family='"Liberation Sans", sans-serif' font-size="7.5" font-weight="bold" fill="#1a1a1a" text-anchor="start" textLength="14.4" lengthAdjust="spacingAndGlyphs">Grp6</text>
<line x1="157.9" y1="430.1" x2="171.2" y2="430.1" stroke="#a8708a" stroke-width="0.8"/>
<line x1="164.5" y1="428.5" x2="164.5" y2="431.7" stroke="#a8708a" stroke-width="0.8"/>
<text x="173.2" y="432.64" font-family='"Liberation Sans", sans-serif' font-size="7.5" font-weight="bold" fill="#1a1a1a" text-anchor="start" textLength="14.4" lengthAdjust="spacingAndGlyphs">Grp7</text>
<line x1="157.9" y1="438.8" x2="171.2" y2="438.8" stroke="#e8e47a" stroke-width="0.8"/>
<line x1="164.5" y1="437.2" x2="164.5" y2="440.4" stroke="#e8e47a" stroke-width="0.8"/>
<text x="173.2" y="441.33" font-family='"Liberation Sans", sans-serif' font-size="7.5" font-weight="bold" fill="#1a1a1a" text-anchor="start" textLength="14.4" lengthAdjust="spacingAndGlyphs">Grp8</text>
</svg>
</body></html>
